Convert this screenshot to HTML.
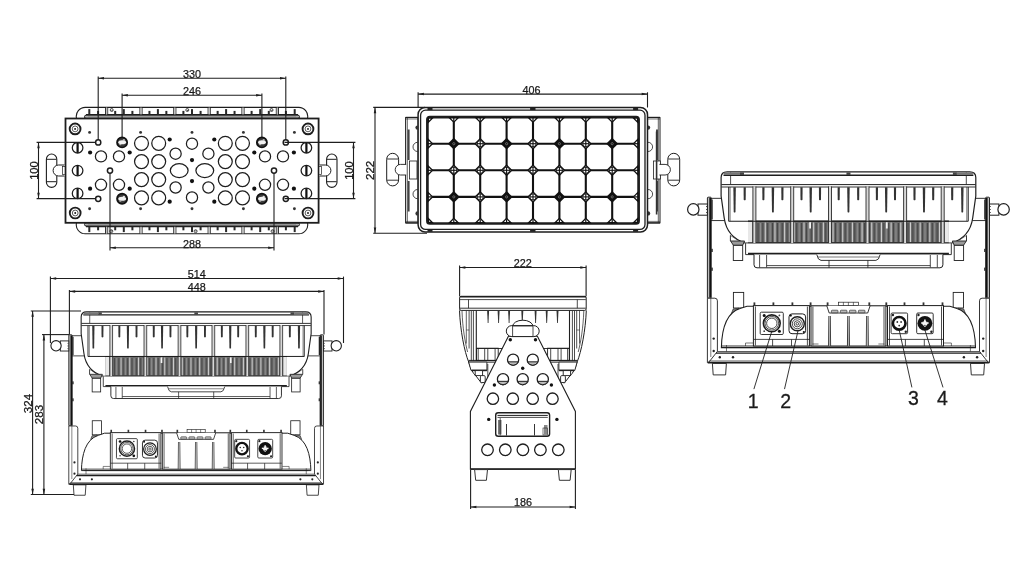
<!DOCTYPE html>
<html><head><meta charset="utf-8"><title>Drawing</title>
<style>
html,body{margin:0;padding:0;background:#fff;}
body{width:1024px;height:576px;overflow:hidden;}
svg{display:block;}
text{font-family:"Liberation Sans",sans-serif;}
</style></head>
<body>
<svg width="1024" height="576" viewBox="0 0 1024 576">
<defs><filter id="nf" x="-0.2" y="-0.2" width="1.4" height="1.4"><feOffset dx="0" dy="0"/></filter></defs>
<rect width="1024" height="576" fill="#fff"/>
<g stroke-linecap="butt">
<path d="M76.5,118.4 A9,9 0 0 1 85.5,107.4 H298.5 A9,9 0 0 1 307.5,118.4" fill="none" stroke="#1e1e1e" stroke-width="1.1"/><line x1="86" y1="114.6" x2="298" y2="114.6" stroke="#1e1e1e" stroke-width="1.1"/><rect x="84.5" y="115.2" width="215" height="3.2" rx="1.5" fill="#b0b0b0" stroke="#1e1e1e" stroke-width="1"/><line x1="88" y1="116.8" x2="296" y2="116.8" stroke="#777" stroke-width="0.5"/><line x1="105.5" y1="107.6" x2="105.5" y2="114.5" stroke="#1e1e1e" stroke-width="0.9"/><line x1="107.7" y1="107.6" x2="107.7" y2="114.5" stroke="#1e1e1e" stroke-width="0.9"/><line x1="106.6" y1="107.6" x2="106.6" y2="114.5" stroke="#bbb" stroke-width="1.2"/><line x1="139.9" y1="107.6" x2="139.9" y2="114.5" stroke="#1e1e1e" stroke-width="0.9"/><line x1="142.1" y1="107.6" x2="142.1" y2="114.5" stroke="#1e1e1e" stroke-width="0.9"/><line x1="141" y1="107.6" x2="141" y2="114.5" stroke="#bbb" stroke-width="1.2"/><line x1="173.7" y1="107.6" x2="173.7" y2="114.5" stroke="#1e1e1e" stroke-width="0.9"/><line x1="175.9" y1="107.6" x2="175.9" y2="114.5" stroke="#1e1e1e" stroke-width="0.9"/><line x1="174.8" y1="107.6" x2="174.8" y2="114.5" stroke="#bbb" stroke-width="1.2"/><line x1="208.1" y1="107.6" x2="208.1" y2="114.5" stroke="#1e1e1e" stroke-width="0.9"/><line x1="210.3" y1="107.6" x2="210.3" y2="114.5" stroke="#1e1e1e" stroke-width="0.9"/><line x1="209.2" y1="107.6" x2="209.2" y2="114.5" stroke="#bbb" stroke-width="1.2"/><line x1="241.9" y1="107.6" x2="241.9" y2="114.5" stroke="#1e1e1e" stroke-width="0.9"/><line x1="244.1" y1="107.6" x2="244.1" y2="114.5" stroke="#1e1e1e" stroke-width="0.9"/><line x1="243" y1="107.6" x2="243" y2="114.5" stroke="#bbb" stroke-width="1.2"/><line x1="276.3" y1="107.6" x2="276.3" y2="114.5" stroke="#1e1e1e" stroke-width="0.9"/><line x1="278.5" y1="107.6" x2="278.5" y2="114.5" stroke="#1e1e1e" stroke-width="0.9"/><line x1="277.4" y1="107.6" x2="277.4" y2="114.5" stroke="#bbb" stroke-width="1.2"/><rect x="88.3" y="109.1" width="2" height="5.4" fill="#2a2a2a"/><rect x="97.1" y="110.9" width="2" height="3.6" fill="#2a2a2a"/><rect x="114.2" y="110.9" width="2" height="3.6" fill="#2a2a2a"/><rect x="122.8" y="109.1" width="2" height="5.4" fill="#2a2a2a"/><rect x="131.4" y="110.9" width="2" height="3.6" fill="#2a2a2a"/><rect x="148.45" y="110.9" width="2" height="3.6" fill="#2a2a2a"/><rect x="156.9" y="109.1" width="2" height="5.4" fill="#2a2a2a"/><rect x="165.35" y="110.9" width="2" height="3.6" fill="#2a2a2a"/><rect x="182.4" y="110.9" width="2" height="3.6" fill="#2a2a2a"/><rect x="191" y="109.1" width="2" height="5.4" fill="#2a2a2a"/><rect x="199.6" y="110.9" width="2" height="3.6" fill="#2a2a2a"/><rect x="216.65" y="110.9" width="2" height="3.6" fill="#2a2a2a"/><rect x="225.1" y="109.1" width="2" height="5.4" fill="#2a2a2a"/><rect x="233.55" y="110.9" width="2" height="3.6" fill="#2a2a2a"/><rect x="250.6" y="110.9" width="2" height="3.6" fill="#2a2a2a"/><rect x="259.2" y="109.1" width="2" height="5.4" fill="#2a2a2a"/><rect x="267.8" y="110.9" width="2" height="3.6" fill="#2a2a2a"/><rect x="284.9" y="110.9" width="2" height="3.6" fill="#2a2a2a"/><rect x="293.7" y="109.1" width="2" height="5.4" fill="#2a2a2a"/><circle cx="111.7" cy="110" r="1.5" fill="none" stroke="#1e1e1e" stroke-width="0.8"/><circle cx="112" cy="110.3" r="0.6" fill="#333"/><circle cx="187.3" cy="110" r="1.5" fill="none" stroke="#1e1e1e" stroke-width="0.8"/><circle cx="187.6" cy="110.3" r="0.6" fill="#333"/><circle cx="271.5" cy="110" r="1.5" fill="none" stroke="#1e1e1e" stroke-width="0.8"/><circle cx="271.8" cy="110.3" r="0.6" fill="#333"/><path d="M76.5,222.8 A9,9 0 0 0 85.5,233.8 H298.5 A9,9 0 0 0 307.5,222.8" fill="none" stroke="#1e1e1e" stroke-width="1.1"/><line x1="86" y1="226.6" x2="298" y2="226.6" stroke="#1e1e1e" stroke-width="1.1"/><rect x="84.5" y="222.8" width="215" height="3.2" rx="1.5" fill="#b0b0b0" stroke="#1e1e1e" stroke-width="1"/><line x1="88" y1="224.4" x2="296" y2="224.4" stroke="#777" stroke-width="0.5"/><line x1="105.5" y1="233.6" x2="105.5" y2="226.7" stroke="#1e1e1e" stroke-width="0.9"/><line x1="107.7" y1="233.6" x2="107.7" y2="226.7" stroke="#1e1e1e" stroke-width="0.9"/><line x1="106.6" y1="233.6" x2="106.6" y2="226.7" stroke="#bbb" stroke-width="1.2"/><line x1="139.9" y1="233.6" x2="139.9" y2="226.7" stroke="#1e1e1e" stroke-width="0.9"/><line x1="142.1" y1="233.6" x2="142.1" y2="226.7" stroke="#1e1e1e" stroke-width="0.9"/><line x1="141" y1="233.6" x2="141" y2="226.7" stroke="#bbb" stroke-width="1.2"/><line x1="173.7" y1="233.6" x2="173.7" y2="226.7" stroke="#1e1e1e" stroke-width="0.9"/><line x1="175.9" y1="233.6" x2="175.9" y2="226.7" stroke="#1e1e1e" stroke-width="0.9"/><line x1="174.8" y1="233.6" x2="174.8" y2="226.7" stroke="#bbb" stroke-width="1.2"/><line x1="208.1" y1="233.6" x2="208.1" y2="226.7" stroke="#1e1e1e" stroke-width="0.9"/><line x1="210.3" y1="233.6" x2="210.3" y2="226.7" stroke="#1e1e1e" stroke-width="0.9"/><line x1="209.2" y1="233.6" x2="209.2" y2="226.7" stroke="#bbb" stroke-width="1.2"/><line x1="241.9" y1="233.6" x2="241.9" y2="226.7" stroke="#1e1e1e" stroke-width="0.9"/><line x1="244.1" y1="233.6" x2="244.1" y2="226.7" stroke="#1e1e1e" stroke-width="0.9"/><line x1="243" y1="233.6" x2="243" y2="226.7" stroke="#bbb" stroke-width="1.2"/><line x1="276.3" y1="233.6" x2="276.3" y2="226.7" stroke="#1e1e1e" stroke-width="0.9"/><line x1="278.5" y1="233.6" x2="278.5" y2="226.7" stroke="#1e1e1e" stroke-width="0.9"/><line x1="277.4" y1="233.6" x2="277.4" y2="226.7" stroke="#bbb" stroke-width="1.2"/><rect x="88.3" y="226.7" width="2" height="5.4" fill="#2a2a2a"/><rect x="97.1" y="226.7" width="2" height="3.6" fill="#2a2a2a"/><rect x="114.2" y="226.7" width="2" height="3.6" fill="#2a2a2a"/><rect x="122.8" y="226.7" width="2" height="5.4" fill="#2a2a2a"/><rect x="131.4" y="226.7" width="2" height="3.6" fill="#2a2a2a"/><rect x="148.45" y="226.7" width="2" height="3.6" fill="#2a2a2a"/><rect x="156.9" y="226.7" width="2" height="5.4" fill="#2a2a2a"/><rect x="165.35" y="226.7" width="2" height="3.6" fill="#2a2a2a"/><rect x="182.4" y="226.7" width="2" height="3.6" fill="#2a2a2a"/><rect x="191" y="226.7" width="2" height="5.4" fill="#2a2a2a"/><rect x="199.6" y="226.7" width="2" height="3.6" fill="#2a2a2a"/><rect x="216.65" y="226.7" width="2" height="3.6" fill="#2a2a2a"/><rect x="225.1" y="226.7" width="2" height="5.4" fill="#2a2a2a"/><rect x="233.55" y="226.7" width="2" height="3.6" fill="#2a2a2a"/><rect x="250.6" y="226.7" width="2" height="3.6" fill="#2a2a2a"/><rect x="259.2" y="226.7" width="2" height="5.4" fill="#2a2a2a"/><rect x="267.8" y="226.7" width="2" height="3.6" fill="#2a2a2a"/><rect x="284.9" y="226.7" width="2" height="3.6" fill="#2a2a2a"/><rect x="293.7" y="226.7" width="2" height="5.4" fill="#2a2a2a"/><circle cx="111.3" cy="231.2" r="1.5" fill="none" stroke="#1e1e1e" stroke-width="0.8"/><circle cx="111.6" cy="230.9" r="0.6" fill="#333"/><circle cx="195.6" cy="231.2" r="1.5" fill="none" stroke="#1e1e1e" stroke-width="0.8"/><circle cx="195.9" cy="230.9" r="0.6" fill="#333"/><circle cx="272.6" cy="231.2" r="1.5" fill="none" stroke="#1e1e1e" stroke-width="0.8"/><circle cx="272.9" cy="230.9" r="0.6" fill="#333"/><rect x="65.5" y="118.5" width="253.1" height="104.3" fill="#fff" stroke="#1e1e1e" stroke-width="1.8"/><circle cx="75.1" cy="128.9" r="5.4" fill="none" stroke="#1e1e1e" stroke-width="1.9"/><circle cx="75.1" cy="128.9" r="2.9" fill="none" stroke="#333" stroke-width="0.8"/><circle cx="75.1" cy="128.9" r="0.95" fill="#111"/><circle cx="308" cy="128.9" r="5.4" fill="none" stroke="#1e1e1e" stroke-width="1.9"/><circle cx="308" cy="128.9" r="2.9" fill="none" stroke="#333" stroke-width="0.8"/><circle cx="308" cy="128.9" r="0.95" fill="#111"/><circle cx="75.2" cy="213" r="5.4" fill="none" stroke="#1e1e1e" stroke-width="1.9"/><circle cx="75.2" cy="213" r="2.9" fill="none" stroke="#333" stroke-width="0.8"/><circle cx="75.2" cy="213" r="0.95" fill="#111"/><circle cx="308" cy="213" r="5.4" fill="none" stroke="#1e1e1e" stroke-width="1.9"/><circle cx="308" cy="213" r="2.9" fill="none" stroke="#333" stroke-width="0.8"/><circle cx="308" cy="213" r="0.95" fill="#111"/><circle cx="89.6" cy="132.4" r="1.45" fill="#333"/><circle cx="294.4" cy="132.4" r="1.45" fill="#333"/><circle cx="89.6" cy="208.8" r="1.45" fill="#333"/><circle cx="294.4" cy="208.8" r="1.45" fill="#333"/><circle cx="98.2" cy="142.4" r="2.6" fill="none" stroke="#1e1e1e" stroke-width="1.5"/><circle cx="285.8" cy="142.4" r="2.6" fill="none" stroke="#1e1e1e" stroke-width="1.5"/><circle cx="98.2" cy="198.8" r="2.6" fill="none" stroke="#1e1e1e" stroke-width="1.5"/><circle cx="285.8" cy="198.8" r="2.6" fill="none" stroke="#1e1e1e" stroke-width="1.5"/><circle cx="122.1" cy="142.4" r="5.1" fill="#3a3a3a" stroke="#111" stroke-width="1.7"/><ellipse cx="122.2" cy="142.3" rx="3.9" ry="2" fill="#f2f2f2"/><ellipse cx="123.9" cy="140" rx="1.2" ry="0.7" fill="#ddd"/><ellipse cx="120.3" cy="144.6" rx="1.2" ry="0.7" fill="#bbb"/><circle cx="261.9" cy="142.4" r="5.1" fill="#3a3a3a" stroke="#111" stroke-width="1.7"/><ellipse cx="262" cy="142.3" rx="3.9" ry="2" fill="#f2f2f2"/><ellipse cx="263.7" cy="140" rx="1.2" ry="0.7" fill="#ddd"/><ellipse cx="260.1" cy="144.6" rx="1.2" ry="0.7" fill="#bbb"/><circle cx="122.1" cy="198.8" r="5.1" fill="#3a3a3a" stroke="#111" stroke-width="1.7"/><ellipse cx="122.2" cy="198.7" rx="3.9" ry="2" fill="#f2f2f2"/><ellipse cx="123.9" cy="196.4" rx="1.2" ry="0.7" fill="#ddd"/><ellipse cx="120.3" cy="201" rx="1.2" ry="0.7" fill="#bbb"/><circle cx="261.9" cy="198.8" r="5.1" fill="#3a3a3a" stroke="#111" stroke-width="1.7"/><ellipse cx="262" cy="198.7" rx="3.9" ry="2" fill="#f2f2f2"/><ellipse cx="263.7" cy="196.4" rx="1.2" ry="0.7" fill="#ddd"/><ellipse cx="260.1" cy="201" rx="1.2" ry="0.7" fill="#bbb"/><circle cx="141.5" cy="143.3" r="6.95" fill="none" stroke="#1e1e1e" stroke-width="1.25"/><circle cx="242.5" cy="143.3" r="6.95" fill="none" stroke="#1e1e1e" stroke-width="1.25"/><circle cx="141.5" cy="197.9" r="6.95" fill="none" stroke="#1e1e1e" stroke-width="1.25"/><circle cx="242.5" cy="197.9" r="6.95" fill="none" stroke="#1e1e1e" stroke-width="1.25"/><circle cx="158.7" cy="143.3" r="6.95" fill="none" stroke="#1e1e1e" stroke-width="1.25"/><circle cx="225.3" cy="143.3" r="6.95" fill="none" stroke="#1e1e1e" stroke-width="1.25"/><circle cx="158.7" cy="197.9" r="6.95" fill="none" stroke="#1e1e1e" stroke-width="1.25"/><circle cx="225.3" cy="197.9" r="6.95" fill="none" stroke="#1e1e1e" stroke-width="1.25"/><circle cx="141.5" cy="161.6" r="6.95" fill="none" stroke="#1e1e1e" stroke-width="1.25"/><circle cx="242.5" cy="161.6" r="6.95" fill="none" stroke="#1e1e1e" stroke-width="1.25"/><circle cx="141.5" cy="179.6" r="6.95" fill="none" stroke="#1e1e1e" stroke-width="1.25"/><circle cx="242.5" cy="179.6" r="6.95" fill="none" stroke="#1e1e1e" stroke-width="1.25"/><circle cx="158.7" cy="161.6" r="6.95" fill="none" stroke="#1e1e1e" stroke-width="1.25"/><circle cx="225.3" cy="161.6" r="6.95" fill="none" stroke="#1e1e1e" stroke-width="1.25"/><circle cx="158.7" cy="179.6" r="6.95" fill="none" stroke="#1e1e1e" stroke-width="1.25"/><circle cx="225.3" cy="179.6" r="6.95" fill="none" stroke="#1e1e1e" stroke-width="1.25"/><circle cx="169.7" cy="139.5" r="2.1" fill="#111"/><circle cx="214.3" cy="139.5" r="2.1" fill="#111"/><circle cx="169.7" cy="201.7" r="2.1" fill="#111"/><circle cx="214.3" cy="201.7" r="2.1" fill="#111"/><circle cx="175.6" cy="153.7" r="5.6" fill="none" stroke="#1e1e1e" stroke-width="1.25"/><circle cx="208.4" cy="153.7" r="5.6" fill="none" stroke="#1e1e1e" stroke-width="1.25"/><circle cx="175.6" cy="187.5" r="5.6" fill="none" stroke="#1e1e1e" stroke-width="1.25"/><circle cx="208.4" cy="187.5" r="5.6" fill="none" stroke="#1e1e1e" stroke-width="1.25"/><ellipse cx="179.2" cy="170.6" rx="8.9" ry="6.9" fill="none" stroke="#1e1e1e" stroke-width="1.25"/><ellipse cx="204.8" cy="170.6" rx="8.9" ry="6.9" fill="none" stroke="#1e1e1e" stroke-width="1.25"/><circle cx="192" cy="132.4" r="1.45" fill="#333"/><circle cx="192" cy="208.8" r="1.45" fill="#333"/><circle cx="192" cy="143.7" r="5.6" fill="none" stroke="#1e1e1e" stroke-width="1.25"/><circle cx="192" cy="197.5" r="5.6" fill="none" stroke="#1e1e1e" stroke-width="1.25"/><circle cx="192" cy="160.1" r="2.1" fill="#111"/><circle cx="192" cy="181.1" r="2.1" fill="#111"/><circle cx="77.6" cy="147.8" r="5.3" fill="none" stroke="#1e1e1e" stroke-width="1.25"/><rect x="76.5" y="142.7" width="2.2" height="10.2" fill="#111"/><circle cx="306.4" cy="147.8" r="5.3" fill="none" stroke="#1e1e1e" stroke-width="1.25"/><rect x="305.3" y="142.7" width="2.2" height="10.2" fill="#111"/><circle cx="77.6" cy="193.4" r="5.3" fill="none" stroke="#1e1e1e" stroke-width="1.25"/><rect x="76.5" y="188.3" width="2.2" height="10.2" fill="#111"/><circle cx="306.4" cy="193.4" r="5.3" fill="none" stroke="#1e1e1e" stroke-width="1.25"/><rect x="305.3" y="188.3" width="2.2" height="10.2" fill="#111"/><circle cx="77.6" cy="170.6" r="5.3" fill="none" stroke="#1e1e1e" stroke-width="1.25"/><rect x="76.5" y="165.5" width="2.2" height="10.2" fill="#111"/><circle cx="306.4" cy="170.6" r="5.3" fill="none" stroke="#1e1e1e" stroke-width="1.25"/><rect x="305.3" y="165.5" width="2.2" height="10.2" fill="#111"/><circle cx="90.1" cy="152.5" r="2.1" fill="#111"/><circle cx="293.9" cy="152.5" r="2.1" fill="#111"/><circle cx="90.1" cy="188.7" r="2.1" fill="#111"/><circle cx="293.9" cy="188.7" r="2.1" fill="#111"/><circle cx="101" cy="156.4" r="5.6" fill="none" stroke="#1e1e1e" stroke-width="1.25"/><circle cx="283" cy="156.4" r="5.6" fill="none" stroke="#1e1e1e" stroke-width="1.25"/><circle cx="101" cy="184.8" r="5.6" fill="none" stroke="#1e1e1e" stroke-width="1.25"/><circle cx="283" cy="184.8" r="5.6" fill="none" stroke="#1e1e1e" stroke-width="1.25"/><circle cx="119" cy="156.4" r="5.6" fill="none" stroke="#1e1e1e" stroke-width="1.25"/><circle cx="265" cy="156.4" r="5.6" fill="none" stroke="#1e1e1e" stroke-width="1.25"/><circle cx="119" cy="184.8" r="5.6" fill="none" stroke="#1e1e1e" stroke-width="1.25"/><circle cx="265" cy="184.8" r="5.6" fill="none" stroke="#1e1e1e" stroke-width="1.25"/><circle cx="129.7" cy="152.5" r="2.1" fill="#111"/><circle cx="254.3" cy="152.5" r="2.1" fill="#111"/><circle cx="129.7" cy="188.7" r="2.1" fill="#111"/><circle cx="254.3" cy="188.7" r="2.1" fill="#111"/><circle cx="110" cy="170.6" r="2.6" fill="none" stroke="#1e1e1e" stroke-width="1.5"/><circle cx="274" cy="170.6" r="2.6" fill="none" stroke="#1e1e1e" stroke-width="1.5"/><circle cx="140.6" cy="132.4" r="1.45" fill="#333"/><circle cx="243.4" cy="132.4" r="1.45" fill="#333"/><circle cx="140.6" cy="208.8" r="1.45" fill="#333"/><circle cx="243.4" cy="208.8" r="1.45" fill="#333"/><rect x="46.4" y="154" width="10.4" height="33.4" rx="5.2" fill="#fff" stroke="#1e1e1e" stroke-width="1.1"/><line x1="46.7" y1="159.3" x2="56.5" y2="159.3" stroke="#1e1e1e" stroke-width="1"/><line x1="46.7" y1="181.7" x2="56.5" y2="181.7" stroke="#1e1e1e" stroke-width="1"/><rect x="326.6" y="154" width="10.4" height="33.4" rx="5.2" fill="#fff" stroke="#1e1e1e" stroke-width="1.1"/><line x1="326.9" y1="159.3" x2="336.7" y2="159.3" stroke="#1e1e1e" stroke-width="1"/><line x1="326.9" y1="181.7" x2="336.7" y2="181.7" stroke="#1e1e1e" stroke-width="1"/><path d="M64.5,165 H58.6 A5.5,5.5 0 0 0 58.6,176 H64.5" fill="#fff" stroke="#1e1e1e" stroke-width="1"/><rect x="62.6" y="166.6" width="2.4" height="8" fill="#fff" stroke="#1e1e1e" stroke-width="0.7"/><path d="M319.5,165 H325.4 A5.5,5.5 0 0 1 325.4,176 H319.5" fill="#fff" stroke="#1e1e1e" stroke-width="1"/><rect x="319" y="166.6" width="2.4" height="8" fill="#fff" stroke="#1e1e1e" stroke-width="0.7"/><line x1="98.2" y1="78.3" x2="285.8" y2="78.3" stroke="#1e1e1e" stroke-width="1.1"/><polygon points="98.2,78.3 104,77.05 104,79.55" fill="#1e1e1e"/><polygon points="285.8,78.3 280,77.05 280,79.55" fill="#1e1e1e"/><g filter="url(#nf)"><text x="192" y="78.2" font-size="10.8" text-anchor="middle" font-family="Liberation Sans, sans-serif" fill="#1a1a1a" stroke="#1a1a1a" stroke-width="0.25">330</text></g><line x1="98.2" y1="76.6" x2="98.2" y2="139.9" stroke="#1e1e1e" stroke-width="1.1"/><line x1="285.8" y1="76.6" x2="285.8" y2="139.9" stroke="#1e1e1e" stroke-width="1.1"/><line x1="122.1" y1="95.2" x2="261.9" y2="95.2" stroke="#1e1e1e" stroke-width="1.1"/><polygon points="122.1,95.2 127.9,93.95 127.9,96.45" fill="#1e1e1e"/><polygon points="261.9,95.2 256.1,93.95 256.1,96.45" fill="#1e1e1e"/><g filter="url(#nf)"><text x="192" y="95" font-size="10.8" text-anchor="middle" font-family="Liberation Sans, sans-serif" fill="#1a1a1a" stroke="#1a1a1a" stroke-width="0.25">246</text></g><line x1="122.1" y1="93.5" x2="122.1" y2="137.1" stroke="#1e1e1e" stroke-width="1.1"/><line x1="261.9" y1="93.5" x2="261.9" y2="137.1" stroke="#1e1e1e" stroke-width="1.1"/><line x1="110" y1="247.8" x2="274" y2="247.8" stroke="#1e1e1e" stroke-width="1.1"/><polygon points="110,247.8 115.8,246.55 115.8,249.05" fill="#1e1e1e"/><polygon points="274,247.8 268.2,246.55 268.2,249.05" fill="#1e1e1e"/><g filter="url(#nf)"><text x="192" y="247.6" font-size="10.8" text-anchor="middle" font-family="Liberation Sans, sans-serif" fill="#1a1a1a" stroke="#1a1a1a" stroke-width="0.25">288</text></g><line x1="110" y1="173.1" x2="110" y2="250.6" stroke="#1e1e1e" stroke-width="1.1"/><line x1="274" y1="173.1" x2="274" y2="250.6" stroke="#1e1e1e" stroke-width="1.1"/><line x1="38.5" y1="142.4" x2="38.5" y2="198.6" stroke="#1e1e1e" stroke-width="1.1"/><polygon points="38.5,142.4 37.25,148.2 39.75,148.2" fill="#1e1e1e"/><polygon points="38.5,198.6 37.25,192.8 39.75,192.8" fill="#1e1e1e"/><g filter="url(#nf)"><text x="37.6" y="170.5" font-size="11.2" text-anchor="middle" font-family="Liberation Sans, sans-serif" fill="#1a1a1a" stroke="#1a1a1a" stroke-width="0.25" transform="rotate(-90 37.6 170.5)">100</text></g><line x1="36.6" y1="142.4" x2="95.7" y2="142.4" stroke="#1e1e1e" stroke-width="1.1"/><line x1="36.6" y1="198.6" x2="95.7" y2="198.6" stroke="#1e1e1e" stroke-width="1.1"/><line x1="353.5" y1="142.4" x2="353.5" y2="198.6" stroke="#1e1e1e" stroke-width="1.1"/><polygon points="353.5,142.4 352.25,148.2 354.75,148.2" fill="#1e1e1e"/><polygon points="353.5,198.6 352.25,192.8 354.75,192.8" fill="#1e1e1e"/><g filter="url(#nf)"><text x="352.6" y="170.5" font-size="11.2" text-anchor="middle" font-family="Liberation Sans, sans-serif" fill="#1a1a1a" stroke="#1a1a1a" stroke-width="0.25" transform="rotate(-90 352.6 170.5)">100</text></g><line x1="284.5" y1="142.4" x2="355.4" y2="142.4" stroke="#1e1e1e" stroke-width="1.1"/><line x1="284.5" y1="198.6" x2="355.4" y2="198.6" stroke="#1e1e1e" stroke-width="1.1"/><rect x="405.6" y="117.6" width="12.5" height="105.2" fill="#fff" stroke="#1e1e1e" stroke-width="1"/><line x1="407.3" y1="118" x2="407.3" y2="222.4" stroke="#1e1e1e" stroke-width="0.7"/><line x1="405.6" y1="117.4" x2="418.1" y2="117.4" stroke="#1e1e1e" stroke-width="1.2"/><line x1="405.6" y1="119" x2="418.1" y2="119" stroke="#1e1e1e" stroke-width="0.6"/><line x1="405.6" y1="223" x2="418.1" y2="223" stroke="#1e1e1e" stroke-width="1.2"/><line x1="405.6" y1="221.4" x2="418.1" y2="221.4" stroke="#1e1e1e" stroke-width="0.6"/><rect x="407.6" y="129.5" width="2" height="30.5" fill="#444"/><rect x="407.6" y="181" width="2" height="30.5" fill="#444"/><path d="M417.6,125.4 A2.2,2.2 0 0 0 417.6,129.8 Z" fill="#333"/><path d="M417.6,211.2 A2.2,2.2 0 0 0 417.6,215.6 Z" fill="#333"/><path d="M417.6,142.3 A4.6,4.6 0 0 0 417.6,151.5" fill="none" stroke="#1e1e1e" stroke-width="0.8"/><path d="M417.6,189.5 A4.6,4.6 0 0 0 417.6,198.7" fill="none" stroke="#1e1e1e" stroke-width="0.8"/><rect x="409.4" y="161" width="7.6" height="18" fill="#fff" stroke="#1e1e1e" stroke-width="0.8"/><rect x="386.7" y="153.3" width="11.9" height="32.6" rx="5.95" fill="#fff" stroke="#1e1e1e" stroke-width="1"/><line x1="387.1" y1="159" x2="398.2" y2="159" stroke="#1e1e1e" stroke-width="0.9"/><line x1="387.1" y1="180.2" x2="398.2" y2="180.2" stroke="#1e1e1e" stroke-width="0.9"/><path d="M406.2,164.4 H400.5 A5.3,5.3 0 0 0 400.5,175 H406.2" fill="#fff" stroke="#1e1e1e" stroke-width="0.9"/><rect x="647.5" y="117.6" width="12.5" height="105.2" fill="#fff" stroke="#1e1e1e" stroke-width="1"/><line x1="658.3" y1="118" x2="658.3" y2="222.4" stroke="#1e1e1e" stroke-width="0.7"/><line x1="660" y1="117.4" x2="647.5" y2="117.4" stroke="#1e1e1e" stroke-width="1.2"/><line x1="660" y1="119" x2="647.5" y2="119" stroke="#1e1e1e" stroke-width="0.6"/><line x1="660" y1="223" x2="647.5" y2="223" stroke="#1e1e1e" stroke-width="1.2"/><line x1="660" y1="221.4" x2="647.5" y2="221.4" stroke="#1e1e1e" stroke-width="0.6"/><rect x="656" y="129.5" width="2" height="30.5" fill="#444"/><rect x="656" y="181" width="2" height="30.5" fill="#444"/><path d="M648,125.4 A2.2,2.2 0 0 1 648,129.8 Z" fill="#333"/><path d="M648,211.2 A2.2,2.2 0 0 1 648,215.6 Z" fill="#333"/><path d="M648,142.3 A4.6,4.6 0 0 1 648,151.5" fill="none" stroke="#1e1e1e" stroke-width="0.8"/><path d="M648,189.5 A4.6,4.6 0 0 1 648,198.7" fill="none" stroke="#1e1e1e" stroke-width="0.8"/><rect x="653.6" y="161" width="6.8" height="18" fill="#fff" stroke="#1e1e1e" stroke-width="0.8"/><line x1="656.6" y1="131.5" x2="656.6" y2="214.5" stroke="#333" stroke-width="1.6"/><rect x="667.8" y="153.3" width="11.9" height="32.6" rx="5.95" fill="#fff" stroke="#1e1e1e" stroke-width="1"/><line x1="668.2" y1="159" x2="679.3" y2="159" stroke="#1e1e1e" stroke-width="0.9"/><line x1="668.2" y1="180.2" x2="679.3" y2="180.2" stroke="#1e1e1e" stroke-width="0.9"/><path d="M659.4,164.4 H665.1 A5.3,5.3 0 0 1 665.1,175 H659.4" fill="#fff" stroke="#1e1e1e" stroke-width="0.9"/><rect x="418.1" y="107.5" width="229.4" height="124.6" rx="7" fill="#fff" stroke="#1e1e1e" stroke-width="1.5"/><rect x="420.6" y="110.2" width="224.4" height="119.2" rx="5" fill="none" stroke="#1e1e1e" stroke-width="1.3"/><rect x="427.5" y="107.9" width="5" height="2.2" fill="#222"/><rect x="427.5" y="229.6" width="5" height="2.2" fill="#222"/><rect x="633.1" y="107.9" width="5" height="2.2" fill="#222"/><rect x="633.1" y="229.6" width="5" height="2.2" fill="#222"/><rect x="530.1" y="107.9" width="5.4" height="2.2" fill="#222"/><rect x="530.1" y="229.6" width="5.4" height="2.2" fill="#222"/><rect x="427.4" y="117.1" width="211.2" height="106.4" rx="2.5" fill="#fff" stroke="#1e1e1e" stroke-width="2.7"/><line x1="453.8" y1="117.1" x2="453.8" y2="223.5" stroke="#111" stroke-width="2.1"/><line x1="480.2" y1="117.1" x2="480.2" y2="223.5" stroke="#111" stroke-width="2.1"/><line x1="506.6" y1="117.1" x2="506.6" y2="223.5" stroke="#111" stroke-width="2.1"/><line x1="533" y1="117.1" x2="533" y2="223.5" stroke="#111" stroke-width="2.1"/><line x1="559.4" y1="117.1" x2="559.4" y2="223.5" stroke="#111" stroke-width="2.1"/><line x1="585.8" y1="117.1" x2="585.8" y2="223.5" stroke="#111" stroke-width="2.1"/><line x1="612.2" y1="117.1" x2="612.2" y2="223.5" stroke="#111" stroke-width="2.1"/><line x1="427.4" y1="143.7" x2="638.6" y2="143.7" stroke="#111" stroke-width="2.1"/><line x1="427.4" y1="170.3" x2="638.6" y2="170.3" stroke="#111" stroke-width="2.1"/><line x1="427.4" y1="196.9" x2="638.6" y2="196.9" stroke="#111" stroke-width="2.1"/><polygon points="447.8,143.7 453.8,137.8 459.8,143.7 453.8,149.6" fill="#111"/><circle cx="453.8" cy="143.7" r="1.1" fill="none" stroke="#aaa" stroke-width="0.5"/><polygon points="448.8,170.3 453.8,165.3 458.8,170.3 453.8,175.3" fill="#fff" stroke="#111" stroke-width="1.4"/><circle cx="453.8" cy="170.3" r="3.1" fill="none" stroke="#222" stroke-width="0.9"/><line x1="450.2" y1="170.3" x2="457.4" y2="170.3" stroke="#111" stroke-width="1.1"/><line x1="453.8" y1="166.7" x2="453.8" y2="173.9" stroke="#111" stroke-width="1.1"/><polygon points="447.8,196.9 453.8,191 459.8,196.9 453.8,202.8" fill="#111"/><circle cx="453.8" cy="196.9" r="1.1" fill="none" stroke="#aaa" stroke-width="0.5"/><polygon points="475.2,143.7 480.2,138.7 485.2,143.7 480.2,148.7" fill="#fff" stroke="#111" stroke-width="1.4"/><circle cx="480.2" cy="143.7" r="3.1" fill="none" stroke="#222" stroke-width="0.9"/><line x1="476.6" y1="143.7" x2="483.8" y2="143.7" stroke="#111" stroke-width="1.1"/><line x1="480.2" y1="140.1" x2="480.2" y2="147.3" stroke="#111" stroke-width="1.1"/><polygon points="475.2,170.3 480.2,165.3 485.2,170.3 480.2,175.3" fill="#fff" stroke="#111" stroke-width="1.4"/><circle cx="480.2" cy="170.3" r="3.1" fill="none" stroke="#222" stroke-width="0.9"/><line x1="476.6" y1="170.3" x2="483.8" y2="170.3" stroke="#111" stroke-width="1.1"/><line x1="480.2" y1="166.7" x2="480.2" y2="173.9" stroke="#111" stroke-width="1.1"/><polygon points="475.2,196.9 480.2,191.9 485.2,196.9 480.2,201.9" fill="#fff" stroke="#111" stroke-width="1.4"/><circle cx="480.2" cy="196.9" r="3.1" fill="none" stroke="#222" stroke-width="0.9"/><line x1="476.6" y1="196.9" x2="483.8" y2="196.9" stroke="#111" stroke-width="1.1"/><line x1="480.2" y1="193.3" x2="480.2" y2="200.5" stroke="#111" stroke-width="1.1"/><polygon points="500.6,143.7 506.6,137.8 512.6,143.7 506.6,149.6" fill="#111"/><circle cx="506.6" cy="143.7" r="1.1" fill="none" stroke="#aaa" stroke-width="0.5"/><polygon points="501.6,170.3 506.6,165.3 511.6,170.3 506.6,175.3" fill="#fff" stroke="#111" stroke-width="1.4"/><circle cx="506.6" cy="170.3" r="3.1" fill="none" stroke="#222" stroke-width="0.9"/><line x1="503" y1="170.3" x2="510.2" y2="170.3" stroke="#111" stroke-width="1.1"/><line x1="506.6" y1="166.7" x2="506.6" y2="173.9" stroke="#111" stroke-width="1.1"/><polygon points="500.6,196.9 506.6,191 512.6,196.9 506.6,202.8" fill="#111"/><circle cx="506.6" cy="196.9" r="1.1" fill="none" stroke="#aaa" stroke-width="0.5"/><polygon points="528,143.7 533,138.7 538,143.7 533,148.7" fill="#fff" stroke="#111" stroke-width="1.4"/><circle cx="533" cy="143.7" r="3.1" fill="none" stroke="#222" stroke-width="0.9"/><line x1="529.4" y1="143.7" x2="536.6" y2="143.7" stroke="#111" stroke-width="1.1"/><line x1="533" y1="140.1" x2="533" y2="147.3" stroke="#111" stroke-width="1.1"/><polygon points="528,170.3 533,165.3 538,170.3 533,175.3" fill="#fff" stroke="#111" stroke-width="1.4"/><circle cx="533" cy="170.3" r="3.1" fill="none" stroke="#222" stroke-width="0.9"/><line x1="529.4" y1="170.3" x2="536.6" y2="170.3" stroke="#111" stroke-width="1.1"/><line x1="533" y1="166.7" x2="533" y2="173.9" stroke="#111" stroke-width="1.1"/><polygon points="528,196.9 533,191.9 538,196.9 533,201.9" fill="#fff" stroke="#111" stroke-width="1.4"/><circle cx="533" cy="196.9" r="3.1" fill="none" stroke="#222" stroke-width="0.9"/><line x1="529.4" y1="196.9" x2="536.6" y2="196.9" stroke="#111" stroke-width="1.1"/><line x1="533" y1="193.3" x2="533" y2="200.5" stroke="#111" stroke-width="1.1"/><polygon points="553.4,143.7 559.4,137.8 565.4,143.7 559.4,149.6" fill="#111"/><circle cx="559.4" cy="143.7" r="1.1" fill="none" stroke="#aaa" stroke-width="0.5"/><polygon points="554.4,170.3 559.4,165.3 564.4,170.3 559.4,175.3" fill="#fff" stroke="#111" stroke-width="1.4"/><circle cx="559.4" cy="170.3" r="3.1" fill="none" stroke="#222" stroke-width="0.9"/><line x1="555.8" y1="170.3" x2="563" y2="170.3" stroke="#111" stroke-width="1.1"/><line x1="559.4" y1="166.7" x2="559.4" y2="173.9" stroke="#111" stroke-width="1.1"/><polygon points="553.4,196.9 559.4,191 565.4,196.9 559.4,202.8" fill="#111"/><circle cx="559.4" cy="196.9" r="1.1" fill="none" stroke="#aaa" stroke-width="0.5"/><polygon points="580.8,143.7 585.8,138.7 590.8,143.7 585.8,148.7" fill="#fff" stroke="#111" stroke-width="1.4"/><circle cx="585.8" cy="143.7" r="3.1" fill="none" stroke="#222" stroke-width="0.9"/><line x1="582.2" y1="143.7" x2="589.4" y2="143.7" stroke="#111" stroke-width="1.1"/><line x1="585.8" y1="140.1" x2="585.8" y2="147.3" stroke="#111" stroke-width="1.1"/><polygon points="580.8,170.3 585.8,165.3 590.8,170.3 585.8,175.3" fill="#fff" stroke="#111" stroke-width="1.4"/><circle cx="585.8" cy="170.3" r="3.1" fill="none" stroke="#222" stroke-width="0.9"/><line x1="582.2" y1="170.3" x2="589.4" y2="170.3" stroke="#111" stroke-width="1.1"/><line x1="585.8" y1="166.7" x2="585.8" y2="173.9" stroke="#111" stroke-width="1.1"/><polygon points="580.8,196.9 585.8,191.9 590.8,196.9 585.8,201.9" fill="#fff" stroke="#111" stroke-width="1.4"/><circle cx="585.8" cy="196.9" r="3.1" fill="none" stroke="#222" stroke-width="0.9"/><line x1="582.2" y1="196.9" x2="589.4" y2="196.9" stroke="#111" stroke-width="1.1"/><line x1="585.8" y1="193.3" x2="585.8" y2="200.5" stroke="#111" stroke-width="1.1"/><polygon points="606.2,143.7 612.2,137.8 618.2,143.7 612.2,149.6" fill="#111"/><circle cx="612.2" cy="143.7" r="1.1" fill="none" stroke="#aaa" stroke-width="0.5"/><polygon points="607.2,170.3 612.2,165.3 617.2,170.3 612.2,175.3" fill="#fff" stroke="#111" stroke-width="1.4"/><circle cx="612.2" cy="170.3" r="3.1" fill="none" stroke="#222" stroke-width="0.9"/><line x1="608.6" y1="170.3" x2="615.8" y2="170.3" stroke="#111" stroke-width="1.1"/><line x1="612.2" y1="166.7" x2="612.2" y2="173.9" stroke="#111" stroke-width="1.1"/><polygon points="606.2,196.9 612.2,191 618.2,196.9 612.2,202.8" fill="#111"/><circle cx="612.2" cy="196.9" r="1.1" fill="none" stroke="#aaa" stroke-width="0.5"/><polygon points="449.5,117.9 458.1,117.9 453.8,122.2" fill="#fff" stroke="#111" stroke-width="1.3"/><line x1="453.8" y1="117.1" x2="453.8" y2="121.4" stroke="#111" stroke-width="1.2"/><polygon points="449.5,222.7 458.1,222.7 453.8,218.4" fill="#fff" stroke="#111" stroke-width="1.3"/><line x1="453.8" y1="223.5" x2="453.8" y2="219.2" stroke="#111" stroke-width="1.2"/><polygon points="475.9,117.9 484.5,117.9 480.2,122.2" fill="#fff" stroke="#111" stroke-width="1.3"/><line x1="480.2" y1="117.1" x2="480.2" y2="121.4" stroke="#111" stroke-width="1.2"/><polygon points="475.9,222.7 484.5,222.7 480.2,218.4" fill="#fff" stroke="#111" stroke-width="1.3"/><line x1="480.2" y1="223.5" x2="480.2" y2="219.2" stroke="#111" stroke-width="1.2"/><polygon points="502.3,117.9 510.9,117.9 506.6,122.2" fill="#fff" stroke="#111" stroke-width="1.3"/><line x1="506.6" y1="117.1" x2="506.6" y2="121.4" stroke="#111" stroke-width="1.2"/><polygon points="502.3,222.7 510.9,222.7 506.6,218.4" fill="#fff" stroke="#111" stroke-width="1.3"/><line x1="506.6" y1="223.5" x2="506.6" y2="219.2" stroke="#111" stroke-width="1.2"/><polygon points="528.7,117.9 537.3,117.9 533,122.2" fill="#fff" stroke="#111" stroke-width="1.3"/><line x1="533" y1="117.1" x2="533" y2="121.4" stroke="#111" stroke-width="1.2"/><polygon points="528.7,222.7 537.3,222.7 533,218.4" fill="#fff" stroke="#111" stroke-width="1.3"/><line x1="533" y1="223.5" x2="533" y2="219.2" stroke="#111" stroke-width="1.2"/><polygon points="555.1,117.9 563.7,117.9 559.4,122.2" fill="#fff" stroke="#111" stroke-width="1.3"/><line x1="559.4" y1="117.1" x2="559.4" y2="121.4" stroke="#111" stroke-width="1.2"/><polygon points="555.1,222.7 563.7,222.7 559.4,218.4" fill="#fff" stroke="#111" stroke-width="1.3"/><line x1="559.4" y1="223.5" x2="559.4" y2="219.2" stroke="#111" stroke-width="1.2"/><polygon points="581.5,117.9 590.1,117.9 585.8,122.2" fill="#fff" stroke="#111" stroke-width="1.3"/><line x1="585.8" y1="117.1" x2="585.8" y2="121.4" stroke="#111" stroke-width="1.2"/><polygon points="581.5,222.7 590.1,222.7 585.8,218.4" fill="#fff" stroke="#111" stroke-width="1.3"/><line x1="585.8" y1="223.5" x2="585.8" y2="219.2" stroke="#111" stroke-width="1.2"/><polygon points="607.9,117.9 616.5,117.9 612.2,122.2" fill="#fff" stroke="#111" stroke-width="1.3"/><line x1="612.2" y1="117.1" x2="612.2" y2="121.4" stroke="#111" stroke-width="1.2"/><polygon points="607.9,222.7 616.5,222.7 612.2,218.4" fill="#fff" stroke="#111" stroke-width="1.3"/><line x1="612.2" y1="223.5" x2="612.2" y2="219.2" stroke="#111" stroke-width="1.2"/><polygon points="428.2,139.4 428.2,148 432.5,143.7" fill="#fff" stroke="#111" stroke-width="1.3"/><line x1="427.4" y1="143.7" x2="431.7" y2="143.7" stroke="#111" stroke-width="1.2"/><polygon points="637.8,139.4 637.8,148 633.5,143.7" fill="#fff" stroke="#111" stroke-width="1.3"/><line x1="638.6" y1="143.7" x2="634.3" y2="143.7" stroke="#111" stroke-width="1.2"/><polygon points="428.2,166 428.2,174.6 432.5,170.3" fill="#fff" stroke="#111" stroke-width="1.3"/><line x1="427.4" y1="170.3" x2="431.7" y2="170.3" stroke="#111" stroke-width="1.2"/><polygon points="637.8,166 637.8,174.6 633.5,170.3" fill="#fff" stroke="#111" stroke-width="1.3"/><line x1="638.6" y1="170.3" x2="634.3" y2="170.3" stroke="#111" stroke-width="1.2"/><polygon points="428.2,192.6 428.2,201.2 432.5,196.9" fill="#fff" stroke="#111" stroke-width="1.3"/><line x1="427.4" y1="196.9" x2="431.7" y2="196.9" stroke="#111" stroke-width="1.2"/><polygon points="637.8,192.6 637.8,201.2 633.5,196.9" fill="#fff" stroke="#111" stroke-width="1.3"/><line x1="638.6" y1="196.9" x2="634.3" y2="196.9" stroke="#111" stroke-width="1.2"/><polygon points="428.4,118.1 432.4,118.1 428.4,122.1" fill="#fff" stroke="#111" stroke-width="1.3"/><polygon points="637.6,118.1 633.6,118.1 637.6,122.1" fill="#fff" stroke="#111" stroke-width="1.3"/><polygon points="428.4,222.5 432.4,222.5 428.4,218.5" fill="#fff" stroke="#111" stroke-width="1.3"/><polygon points="637.6,222.5 633.6,222.5 637.6,218.5" fill="#fff" stroke="#111" stroke-width="1.3"/><line x1="418.1" y1="94.1" x2="647.5" y2="94.1" stroke="#1e1e1e" stroke-width="1.1"/><polygon points="418.1,94.1 423.9,92.85 423.9,95.35" fill="#1e1e1e"/><polygon points="647.5,94.1 641.7,92.85 641.7,95.35" fill="#1e1e1e"/><g filter="url(#nf)"><text x="531.4" y="93.8" font-size="10.8" text-anchor="middle" font-family="Liberation Sans, sans-serif" fill="#1a1a1a" stroke="#1a1a1a" stroke-width="0.25">406</text></g><line x1="418.1" y1="92.3" x2="418.1" y2="107.5" stroke="#1e1e1e" stroke-width="1.1"/><line x1="647.5" y1="92.3" x2="647.5" y2="107.5" stroke="#1e1e1e" stroke-width="1.1"/><line x1="375" y1="107.4" x2="375" y2="233.3" stroke="#1e1e1e" stroke-width="1.1"/><polygon points="375,107.4 373.75,113.2 376.25,113.2" fill="#1e1e1e"/><polygon points="375,233.3 373.75,227.5 376.25,227.5" fill="#1e1e1e"/><g filter="url(#nf)"><text x="374" y="170.35" font-size="11.6" text-anchor="middle" font-family="Liberation Sans, sans-serif" fill="#1a1a1a" stroke="#1a1a1a" stroke-width="0.25" transform="rotate(-90 374 170.35)">222</text></g><line x1="373.2" y1="107.4" x2="425" y2="107.4" stroke="#1e1e1e" stroke-width="1.1"/><line x1="373.2" y1="233.3" x2="427" y2="233.3" stroke="#1e1e1e" stroke-width="1.1"/>
<g id="rear"><rect x="707.4" y="197.2" width="3.8" height="101" rx="0.8" fill="#bdbdbd" stroke="#111" stroke-width="0.9"/><line x1="710.2" y1="198" x2="710.2" y2="297.5" stroke="#111" stroke-width="1.8"/><rect x="710.8" y="248.8" width="2" height="3.2" fill="#333"/><rect x="710.8" y="267.6" width="2" height="3.2" fill="#333"/><path d="M707.4,298.2 H714.8 Q717.4,298.2 717.4,300.8 V351.4 L709.2,361.8 L707.4,362.8 Z" fill="#fff" stroke="#1e1e1e" stroke-width="0.9"/><line x1="710.8" y1="298.2" x2="710.8" y2="357" stroke="#1e1e1e" stroke-width="0.6"/><circle cx="713.7" cy="338.6" r="1.2" fill="#222"/><circle cx="713.7" cy="351" r="1.2" fill="#222"/><circle cx="719.8" cy="357.3" r="1.2" fill="#222"/><circle cx="733" cy="357.3" r="1.2" fill="#222"/><rect x="698" y="204" width="9.4" height="11.2" fill="#fff" stroke="#1e1e1e" stroke-width="1"/><circle cx="706.6" cy="206.5" r="0.6" fill="#333"/><circle cx="706.6" cy="209.5" r="0.6" fill="#333"/><circle cx="706.6" cy="212.5" r="0.6" fill="#333"/><circle cx="693.3" cy="209.4" r="5.7" fill="#fff" stroke="#1e1e1e" stroke-width="1.2"/><rect x="711.2" y="198.3" width="14.8" height="22.3" fill="#fff" stroke="#1e1e1e" stroke-width="0.9"/><line x1="712" y1="199.5" x2="712" y2="219.5" stroke="#222" stroke-width="1.4"/><polygon points="712.4,363.4 726.4,363.4 725.6,374.9 713.2,374.9" fill="#fff" stroke="#1e1e1e" stroke-width="0.9"/><rect x="985.7" y="197.2" width="3.8" height="101" rx="0.8" fill="#bdbdbd" stroke="#111" stroke-width="0.9"/><line x1="986.7" y1="198" x2="986.7" y2="297.5" stroke="#111" stroke-width="1.8"/><rect x="984.1" y="248.8" width="2" height="3.2" fill="#333"/><rect x="984.1" y="267.6" width="2" height="3.2" fill="#333"/><path d="M989.5,298.2 H982.1 Q979.5,298.2 979.5,300.8 V351.4 L987.7,361.8 L989.5,362.8 Z" fill="#fff" stroke="#1e1e1e" stroke-width="0.9"/><line x1="986.1" y1="298.2" x2="986.1" y2="357" stroke="#1e1e1e" stroke-width="0.6"/><circle cx="983.2" cy="338.6" r="1.2" fill="#222"/><circle cx="983.2" cy="351" r="1.2" fill="#222"/><circle cx="977.1" cy="357.3" r="1.2" fill="#222"/><circle cx="963.9" cy="357.3" r="1.2" fill="#222"/><rect x="989.5" y="204" width="9.4" height="11.2" fill="#fff" stroke="#1e1e1e" stroke-width="1"/><circle cx="990.3" cy="206.5" r="0.6" fill="#333"/><circle cx="990.3" cy="209.5" r="0.6" fill="#333"/><circle cx="990.3" cy="212.5" r="0.6" fill="#333"/><circle cx="1003.6" cy="209.4" r="5.7" fill="#fff" stroke="#1e1e1e" stroke-width="1.2"/><rect x="970.9" y="198.3" width="14.8" height="22.3" fill="#fff" stroke="#1e1e1e" stroke-width="0.9"/><line x1="984.9" y1="199.5" x2="984.9" y2="219.5" stroke="#222" stroke-width="1.4"/><polygon points="984.5,363.4 970.5,363.4 971.3,374.9 983.7,374.9" fill="#fff" stroke="#1e1e1e" stroke-width="0.9"/><line x1="717.4" y1="351.6" x2="979.5" y2="351.6" stroke="#1e1e1e" stroke-width="0.8"/><line x1="716" y1="353.2" x2="980.9" y2="353.2" stroke="#1e1e1e" stroke-width="1.2"/><line x1="709.2" y1="360.9" x2="987.7" y2="360.9" stroke="#1e1e1e" stroke-width="0.6"/><line x1="708" y1="362.6" x2="988.9" y2="362.6" stroke="#1e1e1e" stroke-width="1.7"/><path d="M727.2,171.8 H969.7 Q975.8,171.8 975.8,177.6 V196 L972.7,218 C971.3,228 965.9,238.5 951.3,243.2 H745.6 C731,238.5 725.6,228 724.2,218 L721.1,196 V177.6 Q721.1,171.8 727.2,171.8 Z" fill="#fff" stroke="#1e1e1e" stroke-width="1.2"/><line x1="723.5" y1="175.2" x2="973.4" y2="175.2" stroke="#1e1e1e" stroke-width="1.4"/><line x1="721.4" y1="184.6" x2="975.5" y2="184.6" stroke="#1e1e1e" stroke-width="1"/><line x1="721.4" y1="187" x2="975.5" y2="187" stroke="#1e1e1e" stroke-width="0.9"/><line x1="730.6" y1="172.5" x2="730.6" y2="184.3" stroke="#1e1e1e" stroke-width="0.8"/><line x1="966.3" y1="172.5" x2="966.3" y2="184.3" stroke="#1e1e1e" stroke-width="0.8"/><rect x="740" y="172.4" width="4" height="2.6" fill="#444"/><rect x="952.9" y="172.4" width="4" height="2.6" fill="#444"/><rect x="846.45" y="172.4" width="4" height="2.6" fill="#444"/><rect x="724" y="172.6" width="16" height="2.4" fill="#777"/><rect x="956.9" y="172.6" width="16" height="2.4" fill="#777"/><rect x="748" y="221.2" width="200.9" height="21.8" fill="#6c6c6c"/><rect x="748" y="221.2" width="4" height="21.8" fill="#e8e8e8"/><rect x="944.9" y="221.2" width="4" height="21.8" fill="#e8e8e8"/><line x1="755.6" y1="222.4" x2="755.6" y2="242.4" stroke="#cfcfcf" stroke-width="1.1"/><line x1="758.02" y1="223" x2="758.02" y2="242" stroke="#3a3a3a" stroke-width="0.8"/><line x1="760.44" y1="223" x2="760.44" y2="242" stroke="#9a9a9a" stroke-width="0.8"/><line x1="762.86" y1="223" x2="762.86" y2="242" stroke="#3a3a3a" stroke-width="0.8"/><line x1="765.28" y1="222.4" x2="765.28" y2="242.4" stroke="#cfcfcf" stroke-width="1.1"/><line x1="767.7" y1="223" x2="767.7" y2="242" stroke="#3a3a3a" stroke-width="0.8"/><line x1="770.12" y1="223" x2="770.12" y2="242" stroke="#9a9a9a" stroke-width="0.8"/><line x1="772.54" y1="223" x2="772.54" y2="242" stroke="#3a3a3a" stroke-width="0.8"/><line x1="774.96" y1="222.4" x2="774.96" y2="242.4" stroke="#cfcfcf" stroke-width="1.1"/><line x1="777.38" y1="223" x2="777.38" y2="242" stroke="#3a3a3a" stroke-width="0.8"/><line x1="779.8" y1="223" x2="779.8" y2="242" stroke="#9a9a9a" stroke-width="0.8"/><line x1="782.22" y1="223" x2="782.22" y2="242" stroke="#3a3a3a" stroke-width="0.8"/><line x1="784.64" y1="222.4" x2="784.64" y2="242.4" stroke="#cfcfcf" stroke-width="1.1"/><line x1="787.06" y1="223" x2="787.06" y2="242" stroke="#3a3a3a" stroke-width="0.8"/><line x1="789.48" y1="223" x2="789.48" y2="242" stroke="#9a9a9a" stroke-width="0.8"/><line x1="791.9" y1="223" x2="791.9" y2="242" stroke="#3a3a3a" stroke-width="0.8"/><line x1="794.32" y1="222.4" x2="794.32" y2="242.4" stroke="#cfcfcf" stroke-width="1.1"/><line x1="796.74" y1="223" x2="796.74" y2="242" stroke="#3a3a3a" stroke-width="0.8"/><line x1="799.16" y1="223" x2="799.16" y2="242" stroke="#9a9a9a" stroke-width="0.8"/><line x1="801.58" y1="223" x2="801.58" y2="242" stroke="#3a3a3a" stroke-width="0.8"/><line x1="804" y1="222.4" x2="804" y2="242.4" stroke="#cfcfcf" stroke-width="1.1"/><line x1="806.42" y1="223" x2="806.42" y2="242" stroke="#3a3a3a" stroke-width="0.8"/><line x1="808.84" y1="223" x2="808.84" y2="242" stroke="#9a9a9a" stroke-width="0.8"/><line x1="811.26" y1="223" x2="811.26" y2="242" stroke="#3a3a3a" stroke-width="0.8"/><line x1="813.68" y1="222.4" x2="813.68" y2="242.4" stroke="#cfcfcf" stroke-width="1.1"/><line x1="816.1" y1="223" x2="816.1" y2="242" stroke="#3a3a3a" stroke-width="0.8"/><line x1="818.52" y1="223" x2="818.52" y2="242" stroke="#9a9a9a" stroke-width="0.8"/><line x1="820.94" y1="223" x2="820.94" y2="242" stroke="#3a3a3a" stroke-width="0.8"/><line x1="823.36" y1="222.4" x2="823.36" y2="242.4" stroke="#cfcfcf" stroke-width="1.1"/><line x1="825.78" y1="223" x2="825.78" y2="242" stroke="#3a3a3a" stroke-width="0.8"/><line x1="828.2" y1="223" x2="828.2" y2="242" stroke="#9a9a9a" stroke-width="0.8"/><line x1="830.62" y1="223" x2="830.62" y2="242" stroke="#3a3a3a" stroke-width="0.8"/><line x1="833.04" y1="222.4" x2="833.04" y2="242.4" stroke="#cfcfcf" stroke-width="1.1"/><line x1="835.46" y1="223" x2="835.46" y2="242" stroke="#3a3a3a" stroke-width="0.8"/><line x1="837.88" y1="223" x2="837.88" y2="242" stroke="#9a9a9a" stroke-width="0.8"/><line x1="840.3" y1="223" x2="840.3" y2="242" stroke="#3a3a3a" stroke-width="0.8"/><line x1="842.72" y1="222.4" x2="842.72" y2="242.4" stroke="#cfcfcf" stroke-width="1.1"/><line x1="845.14" y1="223" x2="845.14" y2="242" stroke="#3a3a3a" stroke-width="0.8"/><line x1="847.56" y1="223" x2="847.56" y2="242" stroke="#9a9a9a" stroke-width="0.8"/><line x1="849.98" y1="223" x2="849.98" y2="242" stroke="#3a3a3a" stroke-width="0.8"/><line x1="852.4" y1="222.4" x2="852.4" y2="242.4" stroke="#cfcfcf" stroke-width="1.1"/><line x1="854.82" y1="223" x2="854.82" y2="242" stroke="#3a3a3a" stroke-width="0.8"/><line x1="857.24" y1="223" x2="857.24" y2="242" stroke="#9a9a9a" stroke-width="0.8"/><line x1="859.66" y1="223" x2="859.66" y2="242" stroke="#3a3a3a" stroke-width="0.8"/><line x1="862.08" y1="222.4" x2="862.08" y2="242.4" stroke="#cfcfcf" stroke-width="1.1"/><line x1="864.5" y1="223" x2="864.5" y2="242" stroke="#3a3a3a" stroke-width="0.8"/><line x1="866.92" y1="223" x2="866.92" y2="242" stroke="#9a9a9a" stroke-width="0.8"/><line x1="869.34" y1="223" x2="869.34" y2="242" stroke="#3a3a3a" stroke-width="0.8"/><line x1="871.76" y1="222.4" x2="871.76" y2="242.4" stroke="#cfcfcf" stroke-width="1.1"/><line x1="874.18" y1="223" x2="874.18" y2="242" stroke="#3a3a3a" stroke-width="0.8"/><line x1="876.6" y1="223" x2="876.6" y2="242" stroke="#9a9a9a" stroke-width="0.8"/><line x1="879.02" y1="223" x2="879.02" y2="242" stroke="#3a3a3a" stroke-width="0.8"/><line x1="881.44" y1="222.4" x2="881.44" y2="242.4" stroke="#cfcfcf" stroke-width="1.1"/><line x1="883.86" y1="223" x2="883.86" y2="242" stroke="#3a3a3a" stroke-width="0.8"/><line x1="886.28" y1="223" x2="886.28" y2="242" stroke="#9a9a9a" stroke-width="0.8"/><line x1="888.7" y1="223" x2="888.7" y2="242" stroke="#3a3a3a" stroke-width="0.8"/><line x1="891.12" y1="222.4" x2="891.12" y2="242.4" stroke="#cfcfcf" stroke-width="1.1"/><line x1="893.54" y1="223" x2="893.54" y2="242" stroke="#3a3a3a" stroke-width="0.8"/><line x1="895.96" y1="223" x2="895.96" y2="242" stroke="#9a9a9a" stroke-width="0.8"/><line x1="898.38" y1="223" x2="898.38" y2="242" stroke="#3a3a3a" stroke-width="0.8"/><line x1="900.8" y1="222.4" x2="900.8" y2="242.4" stroke="#cfcfcf" stroke-width="1.1"/><line x1="903.22" y1="223" x2="903.22" y2="242" stroke="#3a3a3a" stroke-width="0.8"/><line x1="905.64" y1="223" x2="905.64" y2="242" stroke="#9a9a9a" stroke-width="0.8"/><line x1="908.06" y1="223" x2="908.06" y2="242" stroke="#3a3a3a" stroke-width="0.8"/><line x1="910.48" y1="222.4" x2="910.48" y2="242.4" stroke="#cfcfcf" stroke-width="1.1"/><line x1="912.9" y1="223" x2="912.9" y2="242" stroke="#3a3a3a" stroke-width="0.8"/><line x1="915.32" y1="223" x2="915.32" y2="242" stroke="#9a9a9a" stroke-width="0.8"/><line x1="917.74" y1="223" x2="917.74" y2="242" stroke="#3a3a3a" stroke-width="0.8"/><line x1="920.16" y1="222.4" x2="920.16" y2="242.4" stroke="#cfcfcf" stroke-width="1.1"/><line x1="922.58" y1="223" x2="922.58" y2="242" stroke="#3a3a3a" stroke-width="0.8"/><line x1="925" y1="223" x2="925" y2="242" stroke="#9a9a9a" stroke-width="0.8"/><line x1="927.42" y1="223" x2="927.42" y2="242" stroke="#3a3a3a" stroke-width="0.8"/><line x1="929.84" y1="222.4" x2="929.84" y2="242.4" stroke="#cfcfcf" stroke-width="1.1"/><line x1="932.26" y1="223" x2="932.26" y2="242" stroke="#3a3a3a" stroke-width="0.8"/><line x1="934.68" y1="223" x2="934.68" y2="242" stroke="#9a9a9a" stroke-width="0.8"/><line x1="937.1" y1="223" x2="937.1" y2="242" stroke="#3a3a3a" stroke-width="0.8"/><line x1="939.52" y1="222.4" x2="939.52" y2="242.4" stroke="#cfcfcf" stroke-width="1.1"/><rect x="809.2" y="222.2" width="1.8" height="6.3" fill="#f4f4f4"/><rect x="885.9" y="222.2" width="1.8" height="6.3" fill="#f4f4f4"/><line x1="748" y1="221.2" x2="948.9" y2="221.2" stroke="#1e1e1e" stroke-width="1.2"/><line x1="748" y1="243" x2="948.9" y2="243" stroke="#1e1e1e" stroke-width="1.4"/><line x1="728.6" y1="187" x2="728.6" y2="221.2" stroke="#1e1e1e" stroke-width="0.9"/><line x1="730" y1="187" x2="730" y2="221.2" stroke="#1e1e1e" stroke-width="0.7"/><line x1="968.3" y1="187" x2="968.3" y2="221.2" stroke="#1e1e1e" stroke-width="0.9"/><line x1="966.9" y1="187" x2="966.9" y2="221.2" stroke="#1e1e1e" stroke-width="0.7"/><rect x="752.9" y="186.4" width="3" height="56.6" fill="#d8d8d8"/><line x1="752.9" y1="186.4" x2="752.9" y2="243" stroke="#2a2a2a" stroke-width="0.9"/><line x1="755.9" y1="186.4" x2="755.9" y2="243" stroke="#2a2a2a" stroke-width="0.9"/><rect x="790.7" y="186.4" width="3" height="56.6" fill="#d8d8d8"/><line x1="790.7" y1="186.4" x2="790.7" y2="243" stroke="#2a2a2a" stroke-width="0.9"/><line x1="793.7" y1="186.4" x2="793.7" y2="243" stroke="#2a2a2a" stroke-width="0.9"/><rect x="828.5" y="186.4" width="3" height="56.6" fill="#d8d8d8"/><line x1="828.5" y1="186.4" x2="828.5" y2="243" stroke="#2a2a2a" stroke-width="0.9"/><line x1="831.5" y1="186.4" x2="831.5" y2="243" stroke="#2a2a2a" stroke-width="0.9"/><rect x="866" y="186.4" width="3" height="56.6" fill="#d8d8d8"/><line x1="866" y1="186.4" x2="866" y2="243" stroke="#2a2a2a" stroke-width="0.9"/><line x1="869" y1="186.4" x2="869" y2="243" stroke="#2a2a2a" stroke-width="0.9"/><rect x="903.6" y="186.4" width="3" height="56.6" fill="#d8d8d8"/><line x1="903.6" y1="186.4" x2="903.6" y2="243" stroke="#2a2a2a" stroke-width="0.9"/><line x1="906.6" y1="186.4" x2="906.6" y2="243" stroke="#2a2a2a" stroke-width="0.9"/><rect x="941.2" y="186.4" width="3" height="56.6" fill="#d8d8d8"/><line x1="941.2" y1="186.4" x2="941.2" y2="243" stroke="#2a2a2a" stroke-width="0.9"/><line x1="944.2" y1="186.4" x2="944.2" y2="243" stroke="#2a2a2a" stroke-width="0.9"/><line x1="728.6" y1="221.2" x2="968.3" y2="221.2" stroke="#1e1e1e" stroke-width="1.1"/><path d="M733.35,187.2 L733.7,212 Q734.6,213 735.5,212 L735.85,187.2 Z" fill="#333"/><path d="M771.65,187.2 L772,212 Q772.9,213 773.8,212 L774.15,187.2 Z" fill="#333"/><path d="M809.45,187.2 L809.8,212 Q810.7,213 811.6,212 L811.95,187.2 Z" fill="#333"/><path d="M847.2,187.2 L847.55,212 Q848.45,213 849.35,212 L849.7,187.2 Z" fill="#333"/><path d="M884.95,187.2 L885.3,212 Q886.2,213 887.1,212 L887.45,187.2 Z" fill="#333"/><path d="M922.75,187.2 L923.1,212 Q924,213 924.9,212 L925.25,187.2 Z" fill="#333"/><path d="M961.05,187.2 L961.4,212 Q962.3,213 963.2,212 L963.55,187.2 Z" fill="#333"/><path d="M743.6,187.2 L743.7,199.8 Q744.7,200.8 745.7,199.8 L745.8,187.2 Z" fill="#333"/><path d="M762.3,187.2 L762.4,199.8 Q763.4,200.8 764.4,199.8 L764.5,187.2 Z" fill="#333"/><path d="M781.3,187.2 L781.4,199.8 Q782.4,200.8 783.4,199.8 L783.5,187.2 Z" fill="#333"/><path d="M800.4,187.2 L800.5,199.8 Q801.5,200.8 802.5,199.8 L802.6,187.2 Z" fill="#333"/><path d="M818.9,187.2 L819,199.8 Q820,200.8 821,199.8 L821.1,187.2 Z" fill="#333"/><path d="M837.6,187.2 L837.7,199.8 Q838.7,200.8 839.7,199.8 L839.8,187.2 Z" fill="#333"/><path d="M857.1,187.2 L857.2,199.8 Q858.2,200.8 859.2,199.8 L859.3,187.2 Z" fill="#333"/><path d="M875.8,187.2 L875.9,199.8 Q876.9,200.8 877.9,199.8 L878,187.2 Z" fill="#333"/><path d="M893.9,187.2 L894,199.8 Q895,200.8 896,199.8 L896.1,187.2 Z" fill="#333"/><path d="M913.4,187.2 L913.5,199.8 Q914.5,200.8 915.5,199.8 L915.6,187.2 Z" fill="#333"/><path d="M932.1,187.2 L932.2,199.8 Q933.2,200.8 934.2,199.8 L934.3,187.2 Z" fill="#333"/><path d="M951.1,187.2 L951.2,199.8 Q952.2,200.8 953.2,199.8 L953.3,187.2 Z" fill="#333"/><path d="M745.6,243.4 V254.6 H951.3 V243.4" fill="#fff" stroke="#1e1e1e" stroke-width="0.9"/><line x1="748" y1="253.6" x2="948.9" y2="253.6" stroke="#1e1e1e" stroke-width="1.6"/><path d="M754.0,254.6 V264.8 Q754.0,267.8 757.0,267.8 H939.9 Q942.9,267.8 942.9,264.8 V254.6" fill="#fff" stroke="#1e1e1e" stroke-width="1"/><line x1="759.6" y1="255" x2="759.6" y2="267.4" stroke="#1e1e1e" stroke-width="0.8"/><line x1="766.6" y1="255" x2="766.6" y2="267.4" stroke="#1e1e1e" stroke-width="0.8"/><line x1="937.3" y1="255" x2="937.3" y2="267.4" stroke="#1e1e1e" stroke-width="0.8"/><line x1="930.3" y1="255" x2="930.3" y2="267.4" stroke="#1e1e1e" stroke-width="0.8"/><line x1="766.6" y1="265.6" x2="930.3" y2="265.6" stroke="#1e1e1e" stroke-width="0.8"/><path d="M816.8,254.6 Q818,260.4 821,260.4 H875.9 Q878.9,260.4 880.1,254.6" fill="#fff" stroke="#1e1e1e" stroke-width="0.9"/><line x1="818" y1="257" x2="878.9" y2="257" stroke="#1e1e1e" stroke-width="0.6"/><line x1="829" y1="260.4" x2="829" y2="267.8" stroke="#1e1e1e" stroke-width="0.8"/><line x1="867.9" y1="260.4" x2="867.9" y2="267.8" stroke="#1e1e1e" stroke-width="0.8"/><rect x="733.3" y="245.2" width="9.4" height="15.3" fill="#fff" stroke="#1e1e1e" stroke-width="0.9"/><polygon points="730.6,241 744.6,241 742.7,245.2 733.3,245.2" fill="#9a9a9a" stroke="#1e1e1e" stroke-width="0.9"/><line x1="730.4" y1="235.4" x2="730.4" y2="241" stroke="#1e1e1e" stroke-width="0.9"/><line x1="730.4" y1="235.4" x2="737.5" y2="240" stroke="#1e1e1e" stroke-width="0.6"/><rect x="954.2" y="245.2" width="9.4" height="15.3" fill="#fff" stroke="#1e1e1e" stroke-width="0.9"/><polygon points="966.3,241 952.3,241 954.2,245.2 963.6,245.2" fill="#9a9a9a" stroke="#1e1e1e" stroke-width="0.9"/><line x1="966.5" y1="235.4" x2="966.5" y2="241" stroke="#1e1e1e" stroke-width="0.9"/><line x1="966.5" y1="235.4" x2="959.4" y2="240" stroke="#1e1e1e" stroke-width="0.6"/><rect x="733.4" y="292.4" width="10.3" height="15.6" fill="#fff" stroke="#1e1e1e" stroke-width="0.9"/><polygon points="731.6,313.2 733.2,309 739,308.2 737.2,311.4" fill="#8a8a8a" stroke="#1e1e1e" stroke-width="0.7"/><rect x="953.2" y="292.4" width="10.3" height="15.6" fill="#fff" stroke="#1e1e1e" stroke-width="0.9"/><polygon points="965.3,313.2 963.7,309 957.9,308.2 959.7,311.4" fill="#8a8a8a" stroke="#1e1e1e" stroke-width="0.7"/><path d="M721.4,347.6 C721.8,330 726,313 740,308.6 L747,306.2 H949.9 L956.9,308.6 C970.9,313 975.1,330 975.5,347.6 Z" fill="#fff" stroke="#1e1e1e" stroke-width="1.1"/><line x1="722" y1="346" x2="974.9" y2="346" stroke="#1e1e1e" stroke-width="0.9"/><line x1="724.5" y1="347.6" x2="972.4" y2="347.6" stroke="#1e1e1e" stroke-width="0.6"/><line x1="745.5" y1="343" x2="753" y2="343" stroke="#1e1e1e" stroke-width="0.6"/><line x1="745.5" y1="343" x2="745.5" y2="346" stroke="#1e1e1e" stroke-width="0.6"/><line x1="726.5" y1="345" x2="726.5" y2="351.5" stroke="#1e1e1e" stroke-width="0.6"/><line x1="951.4" y1="343" x2="943.9" y2="343" stroke="#1e1e1e" stroke-width="0.6"/><line x1="951.4" y1="343" x2="951.4" y2="346" stroke="#1e1e1e" stroke-width="0.6"/><line x1="970.4" y1="345" x2="970.4" y2="351.5" stroke="#1e1e1e" stroke-width="0.6"/><rect x="753.4" y="305.6" width="56" height="40.4" fill="#fff" stroke="#1e1e1e" stroke-width="1"/><rect x="887.5" y="305.6" width="56" height="40.4" fill="#fff" stroke="#1e1e1e" stroke-width="1"/><line x1="755.4" y1="306.5" x2="755.4" y2="345.5" stroke="#1e1e1e" stroke-width="0.8"/><line x1="941.5" y1="306.5" x2="941.5" y2="345.5" stroke="#1e1e1e" stroke-width="0.8"/><line x1="807.4" y1="306.5" x2="807.4" y2="345.5" stroke="#1e1e1e" stroke-width="0.8"/><line x1="889.5" y1="306.5" x2="889.5" y2="345.5" stroke="#1e1e1e" stroke-width="0.8"/><line x1="753.6" y1="339.4" x2="809.8" y2="339.4" stroke="#1e1e1e" stroke-width="0.8"/><line x1="887.1" y1="339.4" x2="943.3" y2="339.4" stroke="#1e1e1e" stroke-width="0.8"/><line x1="772.6" y1="339.4" x2="772.6" y2="346" stroke="#1e1e1e" stroke-width="0.8"/><line x1="924.3" y1="339.4" x2="924.3" y2="346" stroke="#1e1e1e" stroke-width="0.8"/><line x1="791.5" y1="339.4" x2="791.5" y2="346" stroke="#1e1e1e" stroke-width="0.8"/><line x1="905.4" y1="339.4" x2="905.4" y2="346" stroke="#1e1e1e" stroke-width="0.8"/><rect x="811" y="305.8" width="74.9" height="40.2" fill="#fff" stroke="#1e1e1e" stroke-width="1"/><line x1="812.9" y1="306.5" x2="812.9" y2="345.5" stroke="#1e1e1e" stroke-width="0.8"/><line x1="884" y1="306.5" x2="884" y2="345.5" stroke="#1e1e1e" stroke-width="0.8"/><path d="M826.8,305.8 L829.2,313.0 H867.7 L870.1,305.8" fill="#fff" stroke="#1e1e1e" stroke-width="0.9"/><rect x="831.4" y="310.2" width="6.6" height="2.6" rx="0.8" fill="#bbb" stroke="#1e1e1e" stroke-width="0.6"/><rect x="840.4" y="310.2" width="6.6" height="2.6" rx="0.8" fill="#bbb" stroke="#1e1e1e" stroke-width="0.6"/><rect x="849.4" y="310.2" width="6.6" height="2.6" rx="0.8" fill="#bbb" stroke="#1e1e1e" stroke-width="0.6"/><rect x="858.4" y="310.2" width="6.6" height="2.6" rx="0.8" fill="#bbb" stroke="#1e1e1e" stroke-width="0.6"/><rect x="838.4" y="302.2" width="20.1" height="3.4" fill="#fff" stroke="#1e1e1e" stroke-width="0.7"/><line x1="843.4" y1="302.2" x2="843.4" y2="305.6" stroke="#1e1e1e" stroke-width="0.6"/><line x1="848.4" y1="302.2" x2="848.4" y2="305.6" stroke="#1e1e1e" stroke-width="0.6"/><line x1="853.4" y1="302.2" x2="853.4" y2="305.6" stroke="#1e1e1e" stroke-width="0.6"/><path d="M828.9,316 L828.6,345.8 M830.3,316 L830.6,345.8" fill="none" stroke="#1e1e1e" stroke-width="0.9"/><rect x="829.1" y="316.5" width="1" height="29" fill="#aaa"/><path d="M847.75,316 L847.45,345.8 M849.15,316 L849.45,345.8" fill="none" stroke="#1e1e1e" stroke-width="0.9"/><rect x="847.95" y="316.5" width="1" height="29" fill="#aaa"/><path d="M866.6,316 L866.3,345.8 M868,316 L868.3,345.8" fill="none" stroke="#1e1e1e" stroke-width="0.9"/><rect x="866.8" y="316.5" width="1" height="29" fill="#aaa"/><line x1="812.5" y1="344" x2="818.5" y2="344" stroke="#1e1e1e" stroke-width="0.6"/><line x1="878.4" y1="344" x2="884.4" y2="344" stroke="#1e1e1e" stroke-width="0.6"/><rect x="753.5" y="302.4" width="1.8" height="3.4" fill="#333"/><rect x="772.5" y="302.4" width="1.8" height="3.4" fill="#333"/><rect x="791.5" y="302.4" width="1.8" height="3.4" fill="#333"/><rect x="809.7" y="302.4" width="1.8" height="3.4" fill="#333"/><rect x="826.7" y="302.4" width="1.8" height="3.4" fill="#333"/><rect x="868.4" y="302.4" width="1.8" height="3.4" fill="#333"/><rect x="885.4" y="302.4" width="1.8" height="3.4" fill="#333"/><rect x="903.6" y="302.4" width="1.8" height="3.4" fill="#333"/><rect x="922.6" y="302.4" width="1.8" height="3.4" fill="#333"/><rect x="941.6" y="302.4" width="1.8" height="3.4" fill="#333"/><rect x="760.2" y="312.2" width="23.1" height="22.3" rx="1.2" fill="#fff" stroke="#1e1e1e" stroke-width="0.9"/><circle cx="771.8" cy="323.3" r="8.4" fill="none" stroke="#1e1e1e" stroke-width="1.6"/><circle cx="771.8" cy="323.3" r="6.8" fill="none" stroke="#1e1e1e" stroke-width="0.8"/><circle cx="771.8" cy="323.3" r="5.2" fill="none" stroke="#1e1e1e" stroke-width="0.8"/><circle cx="764.2" cy="315.4" r="1.5" fill="#111"/><circle cx="779.4" cy="331.2" r="1.5" fill="#111"/><circle cx="779.4" cy="315.4" r="0.9" fill="#444"/><circle cx="764.2" cy="331.2" r="0.9" fill="#444"/><rect x="789" y="313.9" width="16.6" height="19.8" rx="3" fill="#fff" stroke="#1e1e1e" stroke-width="1"/><circle cx="797.3" cy="323.8" r="7" fill="none" stroke="#1e1e1e" stroke-width="1.4"/><circle cx="797.3" cy="323.8" r="5" fill="none" stroke="#1e1e1e" stroke-width="0.8"/><circle cx="797.3" cy="323.8" r="3.1" fill="none" stroke="#1e1e1e" stroke-width="0.8"/><circle cx="797.3" cy="323.8" r="1.3" fill="none" stroke="#1e1e1e" stroke-width="0.8"/><circle cx="790.8" cy="315.6" r="1.1" fill="#111"/><circle cx="803.8" cy="332" r="1.1" fill="#111"/><rect x="891.1" y="313" width="16.5" height="20.7" rx="1.2" fill="#fff" stroke="#1e1e1e" stroke-width="0.9"/><circle cx="899.2" cy="323.3" r="6.3" fill="none" stroke="#111" stroke-width="2.6"/><circle cx="897.3" cy="322" r="0.9" fill="#333"/><circle cx="901.1" cy="322" r="0.9" fill="#333"/><circle cx="899.2" cy="325.6" r="0.9" fill="#333"/><circle cx="892.9" cy="315" r="1.2" fill="#222"/><circle cx="905.8" cy="331.7" r="1.2" fill="#222"/><rect x="916.7" y="313" width="16.5" height="20.7" rx="1.2" fill="#fff" stroke="#1e1e1e" stroke-width="0.9"/><circle cx="924.9" cy="323.3" r="7.4" fill="#111"/><circle cx="924.9" cy="323.3" r="2.6" fill="#f4f4f4"/><line x1="921.2" y1="323" x2="928.6" y2="323" stroke="#f4f4f4" stroke-width="1.6"/><line x1="924.9" y1="319.6" x2="924.9" y2="326.8" stroke="#f4f4f4" stroke-width="1.6"/><circle cx="923" cy="321.6" r="0.7" fill="#333"/><circle cx="926.8" cy="321.6" r="0.7" fill="#333"/><circle cx="924.9" cy="325.4" r="0.7" fill="#333"/><circle cx="918.5" cy="315" r="1.2" fill="#222"/><circle cx="931.4" cy="331.7" r="1.2" fill="#222"/></g>
<use href="#rear" transform="matrix(0.903 0 0 0.903 -570.0 156.7)"/>
<line x1="771.8" y1="331.2" x2="753.9" y2="389.1" stroke="#1e1e1e" stroke-width="0.9"/><line x1="798.1" y1="330.4" x2="784.5" y2="389.1" stroke="#1e1e1e" stroke-width="0.9"/><line x1="899.2" y1="330" x2="911.9" y2="387.4" stroke="#1e1e1e" stroke-width="0.9"/><line x1="924.9" y1="330" x2="943" y2="387.4" stroke="#1e1e1e" stroke-width="0.9"/><g filter="url(#nf)"><text x="0" y="0" font-size="21" text-anchor="middle" font-family="Liberation Mono, monospace" fill="#1a1a1a" stroke="#1a1a1a" stroke-width="0.3" transform="translate(753.3 407.9) scale(0.93 1)">1</text></g><g filter="url(#nf)"><text x="0" y="0" font-size="21" text-anchor="middle" font-family="Liberation Mono, monospace" fill="#1a1a1a" stroke="#1a1a1a" stroke-width="0.3" transform="translate(785.7 407.9) scale(0.93 1)">2</text></g><g filter="url(#nf)"><text x="0" y="0" font-size="21" text-anchor="middle" font-family="Liberation Mono, monospace" fill="#1a1a1a" stroke="#1a1a1a" stroke-width="0.3" transform="translate(913.4 404.8) scale(0.93 1)">3</text></g><g filter="url(#nf)"><text x="0" y="0" font-size="21" text-anchor="middle" font-family="Liberation Mono, monospace" fill="#1a1a1a" stroke="#1a1a1a" stroke-width="0.3" transform="translate(942.5 404.8) scale(0.93 1)">4</text></g>
<path d="M459.5,310.4 C460.2,330 464.5,352 468.7,362 C470.2,368 472.5,373 476,376 L481.7,383.4" fill="none" stroke="#1e1e1e" stroke-width="1"/><path d="M462,311 C462.6,328 465,342 467.6,352" fill="none" stroke="#1e1e1e" stroke-width="0.7"/><line x1="466.3" y1="310.8" x2="466.3" y2="343.6" stroke="#1e1e1e" stroke-width="0.7"/><line x1="469.1" y1="310.8" x2="469.1" y2="348.5" stroke="#1e1e1e" stroke-width="0.8"/><line x1="471.3" y1="310.8" x2="471.3" y2="360.8" stroke="#1e1e1e" stroke-width="0.8"/><line x1="473.4" y1="310.8" x2="473.4" y2="360.8" stroke="#1e1e1e" stroke-width="0.8"/><line x1="476.3" y1="310" x2="476.3" y2="361" stroke="#1e1e1e" stroke-width="1.1"/><line x1="466.3" y1="330" x2="469.1" y2="330" stroke="#1e1e1e" stroke-width="0.6"/><rect x="476.5" y="348.2" width="21.7" height="12.2" fill="none" stroke="#1e1e1e" stroke-width="0.9"/><line x1="478.2" y1="348.6" x2="478.2" y2="360" stroke="#1e1e1e" stroke-width="0.8"/><line x1="484.7" y1="348.6" x2="484.7" y2="360" stroke="#1e1e1e" stroke-width="0.8"/><line x1="487.8" y1="348.6" x2="487.8" y2="360" stroke="#1e1e1e" stroke-width="0.8"/><line x1="495.1" y1="348.6" x2="495.1" y2="360" stroke="#1e1e1e" stroke-width="0.8"/><line x1="468.7" y1="360.4" x2="496" y2="360.4" stroke="#1e1e1e" stroke-width="1"/><line x1="468.7" y1="362.1" x2="496" y2="362.1" stroke="#1e1e1e" stroke-width="1"/><polygon points="468.7,362.1 486.9,362.1 486.9,370.4 471,370.4" fill="#fff" stroke="#1e1e1e" stroke-width="0.9"/><line x1="471.5" y1="370.4" x2="486.9" y2="370.4" stroke="#1e1e1e" stroke-width="1.6"/><rect x="475.2" y="370.6" width="7.4" height="5" fill="#fff" stroke="#1e1e1e" stroke-width="0.9"/><rect x="480.4" y="375.6" width="4.8" height="6.9" rx="1.2" fill="#fff" stroke="#1e1e1e" stroke-width="0.9"/><line x1="487.8" y1="364" x2="487.8" y2="378" stroke="#1e1e1e" stroke-width="0.8"/><path d="M586.3,310.4 C585.6,330 581.3,352 577.1,362 C575.6,368 573.3,373 569.8,376 L564.1,383.4" fill="none" stroke="#1e1e1e" stroke-width="1"/><path d="M583.8,311 C583.2,328 580.8,342 578.2,352" fill="none" stroke="#1e1e1e" stroke-width="0.7"/><line x1="579.5" y1="310.8" x2="579.5" y2="343.6" stroke="#1e1e1e" stroke-width="0.7"/><line x1="576.7" y1="310.8" x2="576.7" y2="348.5" stroke="#1e1e1e" stroke-width="0.8"/><line x1="574.5" y1="310.8" x2="574.5" y2="360.8" stroke="#1e1e1e" stroke-width="0.8"/><line x1="572.4" y1="310.8" x2="572.4" y2="360.8" stroke="#1e1e1e" stroke-width="0.8"/><line x1="569.5" y1="310" x2="569.5" y2="361" stroke="#1e1e1e" stroke-width="1.1"/><line x1="579.5" y1="330" x2="576.7" y2="330" stroke="#1e1e1e" stroke-width="0.6"/><rect x="547.6" y="348.2" width="21.7" height="12.2" fill="none" stroke="#1e1e1e" stroke-width="0.9"/><line x1="567.6" y1="348.6" x2="567.6" y2="360" stroke="#1e1e1e" stroke-width="0.8"/><line x1="561.1" y1="348.6" x2="561.1" y2="360" stroke="#1e1e1e" stroke-width="0.8"/><line x1="558" y1="348.6" x2="558" y2="360" stroke="#1e1e1e" stroke-width="0.8"/><line x1="550.7" y1="348.6" x2="550.7" y2="360" stroke="#1e1e1e" stroke-width="0.8"/><line x1="549.8" y1="360.4" x2="577.1" y2="360.4" stroke="#1e1e1e" stroke-width="1"/><line x1="549.8" y1="362.1" x2="577.1" y2="362.1" stroke="#1e1e1e" stroke-width="1"/><polygon points="577.1,362.1 558.9,362.1 558.9,370.4 574.8,370.4" fill="#fff" stroke="#1e1e1e" stroke-width="0.9"/><line x1="574.3" y1="370.4" x2="558.9" y2="370.4" stroke="#1e1e1e" stroke-width="1.6"/><rect x="563.2" y="370.6" width="7.4" height="5" fill="#fff" stroke="#1e1e1e" stroke-width="0.9"/><rect x="560.6" y="375.6" width="4.8" height="6.9" rx="1.2" fill="#fff" stroke="#1e1e1e" stroke-width="0.9"/><line x1="558" y1="364" x2="558" y2="378" stroke="#1e1e1e" stroke-width="0.8"/><line x1="476.7" y1="348.5" x2="569.1" y2="348.5" stroke="#1e1e1e" stroke-width="0.9"/><rect x="459.6" y="296.3" width="126.6" height="14.1" rx="1.5" fill="#fff" stroke="#1e1e1e" stroke-width="1"/><line x1="459.6" y1="296.7" x2="586.2" y2="296.7" stroke="#1e1e1e" stroke-width="1.6"/><line x1="460" y1="299.6" x2="585.8" y2="299.6" stroke="#1e1e1e" stroke-width="0.8"/><line x1="460" y1="308.2" x2="585.8" y2="308.2" stroke="#1e1e1e" stroke-width="0.9"/><line x1="468.5" y1="299.6" x2="468.5" y2="308.2" stroke="#1e1e1e" stroke-width="0.8"/><line x1="577.3" y1="299.6" x2="577.3" y2="308.2" stroke="#1e1e1e" stroke-width="0.8"/><path d="M487.1,310.6 L487.7,323 L488.5,323 L489.1,310.6 Z" fill="#333"/><path d="M497.6,310.6 L498.2,323 L499,323 L499.6,310.6 Z" fill="#333"/><path d="M508.1,310.6 L508.7,323 L509.5,323 L510.1,310.6 Z" fill="#333"/><path d="M521.3,310.6 L521.9,323 L522.7,323 L523.3,310.6 Z" fill="#333"/><path d="M534.6,310.6 L535.2,323 L536,323 L536.6,310.6 Z" fill="#333"/><path d="M545.7,310.6 L546.3,323 L547.1,323 L547.7,310.6 Z" fill="#333"/><path d="M556.5,310.6 L557.1,323 L557.9,323 L558.5,310.6 Z" fill="#333"/><polygon points="508.4,336.3 537.4,336.3 575.4,411.5 575.4,469.2 470.4,469.2 470.4,411.5" fill="#fff" stroke="#1e1e1e" stroke-width="1.1"/><line x1="470.4" y1="469" x2="575.4" y2="469" stroke="#1e1e1e" stroke-width="1.5"/><path d="M512.6,326.5 A10.2,6.3 0 0 1 533.0,326.5" fill="#fff" stroke="#1e1e1e" stroke-width="1"/><rect x="506.3" y="325.6" width="32.9" height="11" rx="5.5" fill="#fff" stroke="#1e1e1e" stroke-width="1"/><line x1="512.6" y1="326" x2="512.6" y2="336.4" stroke="#1e1e1e" stroke-width="0.8"/><line x1="533" y1="326" x2="533" y2="336.4" stroke="#1e1e1e" stroke-width="0.8"/><line x1="512.6" y1="326" x2="533" y2="326" stroke="#1e1e1e" stroke-width="0.7"/><circle cx="513.1" cy="359.7" r="5.6" fill="#fff" stroke="#1e1e1e" stroke-width="1.3"/><path d="M507.95,361.83 A5.6,5.6 0 0 0 518.25,361.83 Z" fill="#bbb" stroke="#1e1e1e" stroke-width="1"/><circle cx="532.8" cy="359.7" r="5.6" fill="#fff" stroke="#1e1e1e" stroke-width="1.3"/><path d="M527.65,361.83 A5.6,5.6 0 0 0 537.95,361.83 Z" fill="#bbb" stroke="#1e1e1e" stroke-width="1"/><circle cx="503" cy="379.2" r="5.6" fill="#fff" stroke="#1e1e1e" stroke-width="1.3"/><path d="M497.85,381.33 A5.6,5.6 0 0 0 508.15,381.33 Z" fill="#bbb" stroke="#1e1e1e" stroke-width="1"/><circle cx="522.7" cy="379.2" r="5.6" fill="#fff" stroke="#1e1e1e" stroke-width="1.3"/><path d="M517.55,381.33 A5.6,5.6 0 0 0 527.85,381.33 Z" fill="#bbb" stroke="#1e1e1e" stroke-width="1"/><circle cx="542.8" cy="379.2" r="5.6" fill="#fff" stroke="#1e1e1e" stroke-width="1.3"/><path d="M537.65,381.33 A5.6,5.6 0 0 0 547.95,381.33 Z" fill="#bbb" stroke="#1e1e1e" stroke-width="1"/><circle cx="492.9" cy="398.7" r="5.7" fill="#fff" stroke="#1e1e1e" stroke-width="1.3"/><circle cx="512.8" cy="398.7" r="5.7" fill="#fff" stroke="#1e1e1e" stroke-width="1.3"/><circle cx="532.7" cy="398.7" r="5.7" fill="#fff" stroke="#1e1e1e" stroke-width="1.3"/><circle cx="552.5" cy="398.7" r="5.7" fill="#fff" stroke="#1e1e1e" stroke-width="1.3"/><circle cx="487.5" cy="449.8" r="5.8" fill="#fff" stroke="#1e1e1e" stroke-width="1.3"/><path d="M482.9,453.2 A5.8,5.8 0 0 0 492.1,453.2" fill="none" stroke="#1e1e1e" stroke-width="0.7"/><circle cx="505.3" cy="449.8" r="5.8" fill="#fff" stroke="#1e1e1e" stroke-width="1.3"/><path d="M500.7,453.2 A5.8,5.8 0 0 0 509.9,453.2" fill="none" stroke="#1e1e1e" stroke-width="0.7"/><circle cx="522.9" cy="449.8" r="5.8" fill="#fff" stroke="#1e1e1e" stroke-width="1.3"/><path d="M518.3,453.2 A5.8,5.8 0 0 0 527.5,453.2" fill="none" stroke="#1e1e1e" stroke-width="0.7"/><circle cx="540.4" cy="449.8" r="5.8" fill="#fff" stroke="#1e1e1e" stroke-width="1.3"/><path d="M535.8,453.2 A5.8,5.8 0 0 0 545,453.2" fill="none" stroke="#1e1e1e" stroke-width="0.7"/><circle cx="558.3" cy="449.8" r="5.8" fill="#fff" stroke="#1e1e1e" stroke-width="1.3"/><path d="M553.7,453.2 A5.8,5.8 0 0 0 562.9,453.2" fill="none" stroke="#1e1e1e" stroke-width="0.7"/><circle cx="510.3" cy="339.7" r="1.7" fill="#111"/><circle cx="535.5" cy="339.7" r="1.7" fill="#111"/><circle cx="522.7" cy="368.2" r="1.7" fill="#111"/><circle cx="494.4" cy="385" r="1.7" fill="#111"/><circle cx="551.4" cy="385" r="1.7" fill="#111"/><circle cx="488.7" cy="419.4" r="1.7" fill="#111"/><circle cx="556.9" cy="419.4" r="1.7" fill="#111"/><rect x="495.7" y="412.8" width="53.9" height="23.4" rx="2.5" fill="#fff" stroke="#1e1e1e" stroke-width="1.4"/><line x1="497.5" y1="415.4" x2="547.8" y2="415.4" stroke="#1e1e1e" stroke-width="1"/><line x1="497.5" y1="417.4" x2="547.8" y2="417.4" stroke="#1e1e1e" stroke-width="0.8"/><rect x="498" y="420" width="3.5" height="14.5" fill="#777"/><rect x="544" y="425" width="3.5" height="9.5" fill="#888"/><line x1="500.2" y1="418" x2="500.2" y2="435.5" stroke="#1e1e1e" stroke-width="0.7"/><line x1="506.5" y1="424" x2="506.5" y2="435.5" stroke="#1e1e1e" stroke-width="0.9"/><line x1="534.5" y1="424" x2="534.5" y2="435.5" stroke="#1e1e1e" stroke-width="0.9"/><rect x="543" y="428" width="4.5" height="7" fill="none" stroke="#1e1e1e" stroke-width="0.6"/><polygon points="474.6,469.6 487.5,469.6 486.4,480.3 475.7,480.3" fill="#fff" stroke="#1e1e1e" stroke-width="0.9"/><polygon points="558.3,469.6 571.2,469.6 570.1,480.3 559.4,480.3" fill="#fff" stroke="#1e1e1e" stroke-width="0.9"/><line x1="459.6" y1="267.5" x2="586.1" y2="267.5" stroke="#1e1e1e" stroke-width="1.1"/><polygon points="459.6,267.5 465.4,266.25 465.4,268.75" fill="#1e1e1e"/><polygon points="586.1,267.5 580.3,266.25 580.3,268.75" fill="#1e1e1e"/><g filter="url(#nf)"><text x="522.85" y="267.4" font-size="10.8" text-anchor="middle" font-family="Liberation Sans, sans-serif" fill="#1a1a1a" stroke="#1a1a1a" stroke-width="0.25">222</text></g><line x1="459.6" y1="265.6" x2="459.6" y2="296" stroke="#1e1e1e" stroke-width="1.1"/><line x1="586.1" y1="265.6" x2="586.1" y2="296" stroke="#1e1e1e" stroke-width="1.1"/><line x1="470.6" y1="507" x2="575.4" y2="507" stroke="#1e1e1e" stroke-width="1.1"/><polygon points="470.6,507 476.4,505.75 476.4,508.25" fill="#1e1e1e"/><polygon points="575.4,507 569.6,505.75 569.6,508.25" fill="#1e1e1e"/><g filter="url(#nf)"><text x="523" y="506" font-size="10.8" text-anchor="middle" font-family="Liberation Sans, sans-serif" fill="#1a1a1a" stroke="#1a1a1a" stroke-width="0.25">186</text></g><line x1="470.6" y1="470" x2="470.6" y2="509" stroke="#1e1e1e" stroke-width="1.1"/><line x1="575.4" y1="470" x2="575.4" y2="509" stroke="#1e1e1e" stroke-width="1.1"/>
<line x1="50.4" y1="278.5" x2="343.5" y2="278.5" stroke="#1e1e1e" stroke-width="1.1"/><polygon points="50.4,278.5 56.2,277.25 56.2,279.75" fill="#1e1e1e"/><polygon points="343.5,278.5 337.7,277.25 337.7,279.75" fill="#1e1e1e"/><g filter="url(#nf)"><text x="196.7" y="278.2" font-size="10.8" text-anchor="middle" font-family="Liberation Sans, sans-serif" fill="#1a1a1a" stroke="#1a1a1a" stroke-width="0.25">514</text></g><line x1="50.4" y1="276.6" x2="50.4" y2="343" stroke="#1e1e1e" stroke-width="1.1"/><line x1="343.5" y1="276.6" x2="343.5" y2="343" stroke="#1e1e1e" stroke-width="1.1"/><line x1="69.4" y1="291.4" x2="324" y2="291.4" stroke="#1e1e1e" stroke-width="1.1"/><polygon points="69.4,291.4 75.2,290.15 75.2,292.65" fill="#1e1e1e"/><polygon points="324,291.4 318.2,290.15 318.2,292.65" fill="#1e1e1e"/><g filter="url(#nf)"><text x="196.7" y="291.2" font-size="10.8" text-anchor="middle" font-family="Liberation Sans, sans-serif" fill="#1a1a1a" stroke="#1a1a1a" stroke-width="0.25">448</text></g><line x1="69.4" y1="289.9" x2="69.4" y2="334.6" stroke="#1e1e1e" stroke-width="1.1"/><line x1="324" y1="289.9" x2="324" y2="334.6" stroke="#1e1e1e" stroke-width="1.1"/><line x1="32.6" y1="311" x2="32.6" y2="494.5" stroke="#1e1e1e" stroke-width="1.1"/><polygon points="32.6,311 31.35,316.8 33.85,316.8" fill="#1e1e1e"/><polygon points="32.6,494.5 31.35,488.7 33.85,488.7" fill="#1e1e1e"/><g filter="url(#nf)"><text x="31.6" y="403.5" font-size="11.6" text-anchor="middle" font-family="Liberation Sans, sans-serif" fill="#1a1a1a" stroke="#1a1a1a" stroke-width="0.25" transform="rotate(-90 31.6 403.5)">324</text></g><line x1="30.8" y1="311" x2="81" y2="311" stroke="#1e1e1e" stroke-width="1.1"/><line x1="30.8" y1="494.5" x2="74" y2="494.5" stroke="#1e1e1e" stroke-width="1.1"/><line x1="43.9" y1="334.6" x2="43.9" y2="494.5" stroke="#1e1e1e" stroke-width="1.1"/><polygon points="43.9,334.6 42.65,340.4 45.15,340.4" fill="#1e1e1e"/><polygon points="43.9,494.5 42.65,488.7 45.15,488.7" fill="#1e1e1e"/><g filter="url(#nf)"><text x="42.9" y="414.5" font-size="11.6" text-anchor="middle" font-family="Liberation Sans, sans-serif" fill="#1a1a1a" stroke="#1a1a1a" stroke-width="0.25" transform="rotate(-90 42.9 414.5)">283</text></g><line x1="42" y1="334.6" x2="69.4" y2="334.6" stroke="#1e1e1e" stroke-width="1.1"/>
</g>
</svg>
</body></html>
